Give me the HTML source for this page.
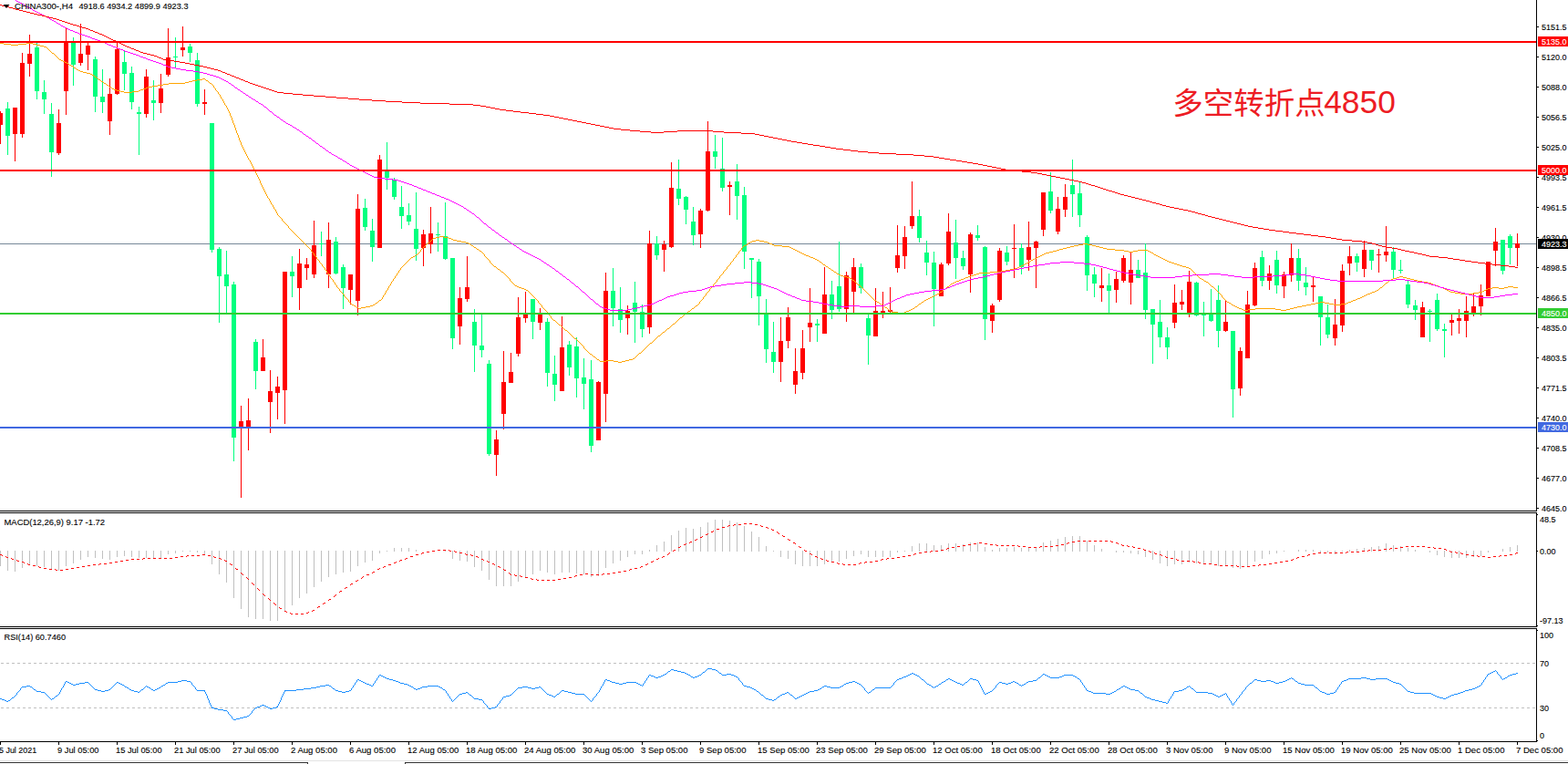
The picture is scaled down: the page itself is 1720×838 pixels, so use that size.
<!DOCTYPE html>
<html><head><meta charset="utf-8"><title>CHINA300 H4</title><style>html,body{margin:0;padding:0;background:#fff;overflow:hidden}svg{display:block}text{font-family:"Liberation Sans",sans-serif;font-size:9.5px;fill:#000;white-space:pre;stroke:#000;stroke-width:.12px}.w{fill:#fff;stroke:#fff}</style></head><body>
<svg width="1720" height="838" viewBox="0 0 1720 838">
<rect width="1720" height="838" fill="#fff"/>
<defs><clipPath id="cm"><rect x="0" y="0" width="1685" height="560"/></clipPath></defs>
<g shape-rendering="crispEdges">
<rect x="0" y="267" width="1685" height="1" fill="#778899"/>
<path clip-path="url(#cm)" fill="#00ff7f" d="M8 112h1v58h-1zM6 119h5v30h-5zM40 47h1v62h-1zM38 52h5v48h-5zM48 88h1v37h-1zM46 101h5v8h-5zM56 113h1v81h-1zM54 125h5v42h-5zM80 41h1v53h-1zM78 47h5v24h-5zM104 62h1v61h-1zM102 65h5v41h-5zM112 76h1v48h-1zM110 106h5v6h-5zM136 55h1v44h-1zM134 68h5v13h-5zM144 73h1v47h-1zM142 80h5v32h-5zM152 117h1v53h-1zM150 123h5v2h-5zM168 88h1v44h-1zM166 110h5v3h-5zM192 41h1v33h-1zM190 62h5v1h-5zM208 48h1v20h-1zM206 51h5v7h-5zM216 58h1v59h-1zM214 66h5v48h-5zM232 135h1v142h-1zM230 135h5v139h-5zM240 271h1v83h-1zM238 273h5v30h-5zM248 275h1v68h-1zM246 301h5v13h-5zM256 309h1v197h-1zM254 312h5v168h-5zM280 372h1v55h-1zM278 375h5v32h-5zM320 281h1v45h-1zM318 298h5v5h-5zM352 254h1v27h-1zM350 267h5v1h-5zM368 260h1v41h-1zM366 265h5v35h-5zM376 290h1v49h-1zM374 293h5v23h-5zM400 218h1v35h-1zM398 228h5v21h-5zM408 240h1v47h-1zM406 253h5v18h-5zM424 156h1v52h-1zM422 188h5v7h-5zM432 195h1v24h-1zM430 197h5v19h-5zM440 204h1v47h-1zM438 227h5v10h-5zM448 223h1v24h-1zM446 236h5v7h-5zM456 211h1v75h-1zM454 251h5v22h-5zM480 244h1v32h-1zM478 257h5v1h-5zM488 222h1v63h-1zM486 259h5v25h-5zM496 283h1v100h-1zM494 283h5v88h-5zM520 339h1v69h-1zM518 353h5v26h-5zM528 345h1v47h-1zM526 379h5v5h-5zM536 395h1v105h-1zM534 399h5v99h-5zM584 328h1v44h-1zM582 328h5v25h-5zM600 349h1v75h-1zM598 353h5v56h-5zM608 390h1v50h-1zM606 410h5v12h-5zM624 374h1v38h-1zM622 378h5v25h-5zM632 370h1v66h-1zM630 380h5v35h-5zM640 393h1v56h-1zM638 414h5v7h-5zM648 395h1v101h-1zM646 416h5v73h-5zM672 294h1v64h-1zM670 319h5v19h-5zM680 315h1v50h-1zM678 339h5v12h-5zM696 309h1v67h-1zM694 332h5v10h-5zM704 334h1v36h-1zM702 342h5v19h-5zM720 259h1v26h-1zM718 267h5v13h-5zM744 175h1v50h-1zM742 207h5v11h-5zM752 215h1v31h-1zM750 216h5v14h-5zM760 227h1v42h-1zM758 243h5v15h-5zM784 148h1v37h-1zM782 166h5v6h-5zM792 151h1v59h-1zM790 185h5v21h-5zM808 180h1v61h-1zM806 199h5v16h-5zM816 205h1v90h-1zM814 214h5v62h-5zM824 283h1v44h-1zM822 283h5v2h-5zM832 284h1v73h-1zM830 287h5v38h-5zM840 328h1v70h-1zM838 345h5v38h-5zM848 353h1v56h-1zM846 386h5v11h-5zM896 350h1v25h-1zM894 355h5v2h-5zM912 308h1v42h-1zM910 323h5v17h-5zM920 265h1v77h-1zM918 314h5v25h-5zM944 289h1v33h-1zM942 293h5v23h-5zM952 345h1v55h-1zM950 349h5v19h-5zM1008 230h1v36h-1zM1006 237h5v24h-5zM1016 264h1v38h-1zM1014 277h5v11h-5zM1024 276h1v82h-1zM1022 288h5v29h-5zM1048 241h1v65h-1zM1046 266h5v17h-5zM1056 275h1v21h-1zM1054 283h5v9h-5zM1072 247h1v17h-1zM1070 258h5v3h-5zM1080 270h1v103h-1zM1078 271h5v79h-5zM1104 270h1v21h-1zM1102 277h5v10h-5zM1120 267h1v34h-1zM1118 272h5v21h-5zM1152 189h1v45h-1zM1150 210h5v21h-5zM1176 175h1v63h-1zM1174 203h5v10h-5zM1184 200h1v49h-1zM1182 212h5v24h-5zM1192 258h1v61h-1zM1190 260h5v42h-5zM1200 293h1v33h-1zM1198 301h5v10h-5zM1216 300h1v43h-1zM1214 313h5v6h-5zM1248 285h1v20h-1zM1246 296h5v9h-5zM1256 267h1v83h-1zM1254 299h5v41h-5zM1264 339h1v60h-1zM1262 339h5v17h-5zM1272 329h1v52h-1zM1270 353h5v17h-5zM1280 359h1v35h-1zM1278 370h5v11h-5zM1312 309h1v38h-1zM1310 310h5v36h-5zM1320 331h1v38h-1zM1318 344h5v2h-5zM1328 317h1v36h-1zM1326 344h5v8h-5zM1336 313h1v68h-1zM1334 329h5v34h-5zM1352 363h1v95h-1zM1350 363h5v64h-5zM1384 275h1v39h-1zM1382 282h5v26h-5zM1400 275h1v47h-1zM1398 285h5v28h-5zM1424 273h1v46h-1zM1422 283h5v25h-5zM1432 293h1v31h-1zM1430 310h5v5h-5zM1448 325h1v54h-1zM1446 325h5v23h-5zM1456 334h1v37h-1zM1454 348h5v19h-5zM1488 278h1v20h-1zM1486 281h5v7h-5zM1504 274h1v22h-1zM1502 274h5v12h-5zM1528 271h1v34h-1zM1526 276h5v20h-5zM1536 285h1v15h-1zM1534 296h5v1h-5zM1544 308h1v30h-1zM1542 312h5v22h-5zM1552 329h1v22h-1zM1550 335h5v5h-5zM1568 339h1v36h-1zM1566 341h5v1h-5zM1576 322h1v41h-1zM1574 329h5v32h-5zM1584 355h1v37h-1zM1582 361h5v2h-5zM1648 263h1v38h-1zM1646 263h5v34h-5zM1656 257h1v33h-1zM1654 259h5v13h-5z"/>
<path clip-path="url(#cm)" fill="#ff0000" d="M0 122h1v36h-1zM-2 124h5v13h-5zM16 118h1v59h-1zM14 118h5v29h-5zM24 58h1v93h-1zM22 69h5v78h-5zM32 38h1v46h-1zM30 59h5v11h-5zM64 120h1v50h-1zM62 135h5v33h-5zM72 31h1v95h-1zM70 46h5v54h-5zM88 26h1v46h-1zM86 59h5v10h-5zM96 47h1v30h-1zM94 50h5v10h-5zM120 86h1v62h-1zM118 103h5v30h-5zM128 45h1v59h-1zM126 54h5v49h-5zM160 76h1v53h-1zM158 84h5v41h-5zM176 81h1v43h-1zM174 97h5v16h-5zM184 31h1v53h-1zM182 63h5v19h-5zM200 29h1v33h-1zM198 52h5v3h-5zM224 98h1v28h-1zM222 112h5v2h-5zM264 445h1v101h-1zM262 462h5v6h-5zM272 437h1v57h-1zM270 461h5v7h-5zM288 372h1v35h-1zM286 392h5v15h-5zM296 406h1v69h-1zM294 429h5v12h-5zM304 413h1v47h-1zM302 424h5v7h-5zM312 298h1v167h-1zM310 298h5v130h-5zM328 273h1v67h-1zM326 289h5v27h-5zM336 283h1v24h-1zM334 290h5v4h-5zM344 242h1v63h-1zM342 269h5v32h-5zM360 244h1v72h-1zM358 263h5v38h-5zM384 301h1v33h-1zM382 301h5v17h-5zM392 213h1v133h-1zM390 229h5v101h-5zM416 170h1v102h-1zM414 175h5v97h-5zM464 252h1v40h-1zM462 257h5v15h-5zM472 227h1v51h-1zM470 256h5v12h-5zM504 315h1v63h-1zM502 327h5v31h-5zM512 281h1v50h-1zM510 315h5v13h-5zM544 472h1v50h-1zM542 482h5v17h-5zM552 385h1v86h-1zM550 419h5v35h-5zM560 387h1v33h-1zM558 408h5v12h-5zM568 326h1v65h-1zM566 348h5v40h-5zM576 320h1v34h-1zM574 345h5v4h-5zM592 338h1v24h-1zM590 345h5v9h-5zM616 347h1v82h-1zM614 381h5v48h-5zM656 418h1v65h-1zM654 419h5v64h-5zM664 299h1v164h-1zM662 319h5v113h-5zM688 335h1v32h-1zM686 341h5v8h-5zM712 253h1v113h-1zM710 267h5v92h-5zM728 264h1v34h-1zM726 268h5v6h-5zM736 178h1v94h-1zM734 206h5v65h-5zM768 229h1v43h-1zM766 231h5v26h-5zM776 133h1v99h-1zM774 166h5v65h-5zM800 199h1v37h-1zM798 203h5v2h-5zM856 348h1v71h-1zM854 374h5v23h-5zM864 337h1v45h-1zM862 348h5v26h-5zM872 382h1v50h-1zM870 407h5v15h-5zM880 362h1v54h-1zM878 382h5v27h-5zM888 316h1v59h-1zM886 354h5v5h-5zM904 293h1v73h-1zM902 323h5v43h-5zM928 298h1v55h-1zM926 302h5v37h-5zM936 283h1v60h-1zM934 293h5v27h-5zM960 316h1v53h-1zM958 341h5v28h-5zM968 320h1v29h-1zM966 341h5v2h-5zM976 315h1v28h-1zM974 340h5v2h-5zM984 247h1v52h-1zM982 280h5v14h-5zM992 248h1v47h-1zM990 260h5v21h-5zM1000 199h1v52h-1zM998 237h5v11h-5zM1032 288h1v37h-1zM1030 290h5v35h-5zM1040 234h1v57h-1zM1038 254h5v35h-5zM1064 255h1v66h-1zM1062 257h5v44h-5zM1088 333h1v32h-1zM1086 335h5v17h-5zM1096 272h1v59h-1zM1094 275h5v54h-5zM1112 246h1v59h-1zM1110 272h5v1h-5zM1128 243h1v54h-1zM1126 271h5v14h-5zM1136 264h1v52h-1zM1134 265h5v7h-5zM1144 211h1v48h-1zM1142 211h5v41h-5zM1160 216h1v41h-1zM1158 229h5v25h-5zM1168 202h1v36h-1zM1166 216h5v14h-5zM1208 294h1v37h-1zM1206 313h5v3h-5zM1224 298h1v34h-1zM1222 306h5v12h-5zM1232 280h1v30h-1zM1230 283h5v25h-5zM1240 276h1v58h-1zM1238 296h5v14h-5zM1288 312h1v48h-1zM1286 332h5v22h-5zM1296 318h1v22h-1zM1294 331h5v3h-5zM1304 297h1v51h-1zM1302 309h5v35h-5zM1344 330h1v34h-1zM1342 353h5v10h-5zM1360 381h1v53h-1zM1358 385h5v41h-5zM1368 319h1v74h-1zM1366 334h5v59h-5zM1376 288h1v48h-1zM1374 294h5v41h-5zM1392 291h1v27h-1zM1390 300h5v8h-5zM1408 298h1v29h-1zM1406 301h5v13h-5zM1416 267h1v42h-1zM1414 283h5v19h-5zM1440 303h1v28h-1zM1438 313h5v2h-5zM1464 328h1v51h-1zM1462 356h5v15h-5zM1472 290h1v74h-1zM1470 297h5v60h-5zM1480 270h1v32h-1zM1478 281h5v8h-5zM1496 264h1v40h-1zM1494 274h5v21h-5zM1512 273h1v26h-1zM1510 279h5v1h-5zM1520 248h1v39h-1zM1518 276h5v4h-5zM1560 331h1v39h-1zM1558 337h5v33h-5zM1592 345h1v23h-1zM1590 351h5v3h-5zM1600 339h1v27h-1zM1598 349h5v3h-5zM1608 325h1v45h-1zM1606 341h5v11h-5zM1616 322h1v25h-1zM1614 336h5v7h-5zM1624 312h1v34h-1zM1622 324h5v12h-5zM1632 287h1v38h-1zM1630 287h5v38h-5zM1640 250h1v42h-1zM1638 265h5v10h-5zM1664 256h1v36h-1zM1662 267h5v5h-5z"/>
<path fill="#ffa500" d="M0 47h4v1h-4zM4 48h8v1h-8zM12 49h8v1h-8zM20 48h9v1h-9zM29 47h7v1h-7zM36 48h4v1h-4zM40 49h4v1h-4zM44 50h4v1h-4zM48 51h3v1h-3zM51 52h1v1h-1zM52 53h1v1h-1zM53 54h1v1h-1zM54 55h1v1h-1zM55 56h1v1h-1zM56 57h1v1h-1zM57 58h2v1h-2zM59 59h1v1h-1zM60 60h1v1h-1zM61 61h1v1h-1zM62 62h1v1h-1zM63 63h1v1h-1zM64 64h1v1h-1zM65 65h2v1h-2zM67 66h2v1h-2zM69 67h2v1h-2zM71 68h2v1h-2zM73 69h2v1h-2zM75 70h1v1h-1zM76 71h2v1h-2zM78 72h2v1h-2zM80 73h1v1h-1zM81 74h2v1h-2zM83 75h1v1h-1zM84 76h2v1h-2zM86 77h2v1h-2zM88 78h3v1h-3zM91 79h4v1h-4zM95 80h4v1h-4zM99 81h2v1h-2zM101 82h2v1h-2zM103 83h1v1h-1zM104 84h2v1h-2zM106 85h1v1h-1zM107 86h1v1h-1zM108 87h2v1h-2zM110 88h1v1h-1zM111 89h2v1h-2zM113 90h1v1h-1zM114 91h2v1h-2zM116 92h1v1h-1zM117 93h2v1h-2zM119 94h1v1h-1zM120 95h2v1h-2zM122 96h1v1h-1zM123 97h2v1h-2zM125 98h3v1h-3zM128 99h4v1h-4zM132 100h4v1h-4zM136 101h9v1h-9zM145 100h7v1h-7zM152 99h2v1h-2zM154 98h3v1h-3zM157 97h3v1h-3zM160 96h2v1h-2zM162 95h5v1h-5zM167 94h6v1h-6zM173 93h6v1h-6zM179 92h6v1h-6zM185 91h18v1h-18zM203 90h4v1h-4zM207 89h4v1h-4zM211 88h5v1h-5zM216 87h6v1h-6zM222 86h3v1h-3zM225 87h1v1h-1zM226 88h2v1h-2zM228 89h1v1h-1zM229 90h1v1h-1zM230 91h2v1h-2zM232 92h1v1h-1zM233 93h1v1h-1zM234 94h1v1h-1zM234 95h1v1h-1zM235 96h1v1h-1zM236 97h1v1h-1zM236 98h1v1h-1zM237 99h1v1h-1zM238 100h1v1h-1zM239 101h1v1h-1zM239 102h1v1h-1zM240 103h1v1h-1zM241 104h1v1h-1zM241 105h1v1h-1zM242 106h1v1h-1zM242 107h1v1h-1zM243 108h1v1h-1zM244 109h1v1h-1zM244 110h1v1h-1zM245 111h1v1h-1zM245 112h1v1h-1zM246 113h1v1h-1zM246 114h1v1h-1zM247 115h1v1h-1zM248 116h1v1h-1zM248 117h1v1h-1zM249 118h1v1h-1zM249 119h1v1h-1zM250 120h1v1h-1zM250 121h1v1h-1zM251 122h1v1h-1zM251 123h1v1h-1zM252 124h1v1h-1zM252 125h1v1h-1zM252 126h1v1h-1zM253 127h1v1h-1zM253 128h1v1h-1zM254 129h1v1h-1zM254 130h1v1h-1zM254 131h1v1h-1zM255 132h1v1h-1zM255 133h1v1h-1zM255 134h1v1h-1zM256 135h1v1h-1zM256 136h1v1h-1zM257 137h1v1h-1zM257 138h1v1h-1zM257 139h1v1h-1zM258 140h1v1h-1zM258 141h1v1h-1zM258 142h1v1h-1zM259 143h1v1h-1zM259 144h1v1h-1zM259 145h1v1h-1zM260 146h1v1h-1zM260 147h1v1h-1zM261 148h1v1h-1zM261 149h1v1h-1zM261 150h1v1h-1zM262 151h1v1h-1zM262 152h1v1h-1zM262 153h1v1h-1zM263 154h1v1h-1zM263 155h1v1h-1zM264 156h1v1h-1zM264 157h1v1h-1zM264 158h1v1h-1zM265 159h1v1h-1zM265 160h1v1h-1zM266 161h1v1h-1zM266 162h1v1h-1zM267 163h1v1h-1zM267 164h1v1h-1zM268 165h1v1h-1zM268 166h1v1h-1zM269 167h1v1h-1zM269 168h1v1h-1zM270 169h1v1h-1zM270 170h1v1h-1zM271 171h1v1h-1zM271 172h1v1h-1zM272 173h1v1h-1zM272 174h1v1h-1zM273 175h1v1h-1zM274 176h1v1h-1zM274 177h1v1h-1zM275 178h1v1h-1zM275 179h1v1h-1zM276 180h1v1h-1zM276 181h1v1h-1zM277 182h1v1h-1zM277 183h1v1h-1zM278 184h1v1h-1zM278 185h1v1h-1zM279 186h1v1h-1zM279 187h1v1h-1zM280 188h1v1h-1zM280 189h1v1h-1zM281 190h1v1h-1zM281 191h1v1h-1zM282 192h1v1h-1zM282 193h1v1h-1zM283 194h1v1h-1zM283 195h1v1h-1zM284 196h1v1h-1zM284 197h1v1h-1zM285 198h1v1h-1zM285 199h1v1h-1zM285 200h1v1h-1zM286 201h1v1h-1zM286 202h1v1h-1zM287 203h1v1h-1zM287 204h1v1h-1zM288 205h1v1h-1zM288 206h1v1h-1zM289 207h1v1h-1zM289 208h1v1h-1zM290 209h1v1h-1zM290 210h1v1h-1zM291 211h1v1h-1zM291 212h1v1h-1zM292 213h1v1h-1zM292 214h1v1h-1zM293 215h1v1h-1zM293 216h1v1h-1zM294 217h1v1h-1zM295 218h1v1h-1zM295 219h1v1h-1zM296 220h1v1h-1zM296 221h1v1h-1zM297 222h1v1h-1zM297 223h1v1h-1zM298 224h1v1h-1zM299 225h1v1h-1zM299 226h1v1h-1zM300 227h1v1h-1zM300 228h1v1h-1zM301 229h1v1h-1zM302 230h1v1h-1zM302 231h1v1h-1zM303 232h1v1h-1zM303 233h1v1h-1zM304 234h1v1h-1zM304 235h1v1h-1zM305 236h1v1h-1zM306 237h1v1h-1zM307 238h1v1h-1zM308 239h1v1h-1zM309 240h1v1h-1zM309 241h1v1h-1zM310 242h1v1h-1zM311 243h1v1h-1zM312 244h1v1h-1zM313 245h1v1h-1zM314 246h1v1h-1zM315 247h1v1h-1zM316 248h1v1h-1zM316 249h1v1h-1zM317 250h1v1h-1zM318 251h1v1h-1zM319 252h1v1h-1zM320 253h1v1h-1zM321 254h1v1h-1zM322 255h1v1h-1zM323 256h1v1h-1zM324 257h1v1h-1zM325 258h1v1h-1zM326 259h1v1h-1zM327 260h1v1h-1zM328 261h1v1h-1zM329 262h1v1h-1zM330 263h1v1h-1zM331 264h1v1h-1zM332 265h1v1h-1zM333 266h1v1h-1zM334 267h1v1h-1zM335 268h1v1h-1zM336 269h1v1h-1zM337 270h1v1h-1zM338 271h1v1h-1zM339 272h1v1h-1zM340 273h1v1h-1zM341 274h1v1h-1zM341 275h1v1h-1zM342 276h1v1h-1zM343 277h1v1h-1zM344 278h1v1h-1zM344 279h1v1h-1zM345 280h1v1h-1zM346 281h1v1h-1zM347 282h1v1h-1zM347 283h1v1h-1zM348 284h1v1h-1zM349 285h1v1h-1zM350 286h1v1h-1zM350 287h1v1h-1zM351 288h1v1h-1zM352 289h1v1h-1zM353 290h1v1h-1zM353 291h1v1h-1zM354 292h1v1h-1zM355 293h1v1h-1zM356 294h1v1h-1zM356 295h1v1h-1zM357 296h1v1h-1zM358 297h1v1h-1zM358 298h1v1h-1zM359 299h1v1h-1zM360 300h1v1h-1zM360 301h1v1h-1zM361 302h1v1h-1zM362 303h1v1h-1zM362 304h1v1h-1zM363 305h1v1h-1zM364 306h1v1h-1zM365 307h1v1h-1zM365 308h1v1h-1zM366 309h1v1h-1zM367 310h1v1h-1zM367 311h1v1h-1zM368 312h1v1h-1zM369 313h1v1h-1zM369 314h1v1h-1zM370 315h1v1h-1zM371 316h1v1h-1zM372 317h1v1h-1zM372 318h1v1h-1zM373 319h1v1h-1zM374 320h1v1h-1zM375 321h1v1h-1zM376 322h1v1h-1zM377 323h1v1h-1zM377 324h1v1h-1zM378 325h1v1h-1zM379 326h1v1h-1zM380 327h1v1h-1zM381 328h1v1h-1zM382 329h1v1h-1zM382 330h1v1h-1zM383 331h1v1h-1zM384 332h1v1h-1zM385 333h1v1h-1zM386 334h2v1h-2zM388 335h2v1h-2zM390 336h1v1h-1zM391 337h2v1h-2zM393 338h3v1h-3zM396 337h5v1h-5zM401 336h5v1h-5zM406 335h3v1h-3zM409 334h2v1h-2zM411 333h1v1h-1zM412 332h2v1h-2zM414 331h1v1h-1zM415 330h1v1h-1zM416 329h2v1h-2zM418 328h1v1h-1zM419 326h1v1h-1zM419 327h1v1h-1zM420 324h1v1h-1zM420 325h1v1h-1zM421 323h1v1h-1zM422 321h1v1h-1zM422 322h1v1h-1zM423 319h1v1h-1zM423 320h1v1h-1zM424 318h1v1h-1zM425 316h1v1h-1zM425 317h1v1h-1zM426 314h1v1h-1zM426 315h1v1h-1zM427 313h1v1h-1zM428 311h1v1h-1zM428 312h1v1h-1zM429 309h1v1h-1zM429 310h1v1h-1zM430 308h1v1h-1zM431 306h1v1h-1zM431 307h1v1h-1zM432 305h1v1h-1zM433 303h1v1h-1zM433 304h1v1h-1zM434 302h1v1h-1zM435 300h1v1h-1zM435 301h1v1h-1zM436 299h1v1h-1zM437 297h1v1h-1zM437 298h1v1h-1zM438 296h1v1h-1zM439 294h1v1h-1zM439 295h1v1h-1zM440 293h1v1h-1zM441 292h1v1h-1zM442 291h1v1h-1zM443 290h1v1h-1zM444 289h1v1h-1zM445 288h1v1h-1zM446 287h1v1h-1zM447 286h1v1h-1zM448 285h1v1h-1zM449 284h1v1h-1zM450 283h1v1h-1zM451 282h2v1h-2zM453 281h2v1h-2zM455 280h1v1h-1zM456 279h2v1h-2zM458 278h1v1h-1zM459 277h1v1h-1zM460 276h1v1h-1zM461 274h1v1h-1zM461 275h1v1h-1zM462 273h1v1h-1zM463 272h1v1h-1zM464 271h1v1h-1zM465 270h1v1h-1zM466 269h1v1h-1zM467 268h1v1h-1zM468 267h1v1h-1zM469 266h2v1h-2zM471 265h1v1h-1zM472 264h1v1h-1zM473 263h1v1h-1zM474 262h1v1h-1zM475 261h3v1h-3zM478 260h4v1h-4zM482 259h5v1h-5zM487 260h5v1h-5zM492 261h3v1h-3zM495 262h2v1h-2zM497 263h4v1h-4zM501 264h5v1h-5zM506 265h5v1h-5zM511 266h3v1h-3zM514 267h2v1h-2zM516 268h1v1h-1zM517 269h2v1h-2zM519 270h1v1h-1zM520 271h2v1h-2zM522 272h1v1h-1zM523 273h2v1h-2zM525 274h1v1h-1zM526 275h2v1h-2zM528 276h1v1h-1zM529 277h1v1h-1zM530 278h1v1h-1zM531 279h1v1h-1zM531 280h1v1h-1zM532 281h1v1h-1zM533 282h1v1h-1zM534 283h1v1h-1zM535 284h1v1h-1zM536 285h1v1h-1zM537 286h1v1h-1zM537 287h1v1h-1zM538 288h1v1h-1zM539 289h1v1h-1zM540 290h1v1h-1zM541 291h1v1h-1zM542 292h2v1h-2zM544 293h1v1h-1zM545 294h1v1h-1zM546 295h2v1h-2zM548 296h1v1h-1zM549 297h1v1h-1zM550 298h2v1h-2zM552 299h1v1h-1zM553 300h1v1h-1zM554 301h1v1h-1zM555 302h1v1h-1zM556 303h1v1h-1zM557 304h1v1h-1zM558 305h1v1h-1zM559 306h1v1h-1zM559 307h1v1h-1zM560 308h1v1h-1zM561 309h1v1h-1zM562 310h1v1h-1zM563 311h1v1h-1zM564 312h1v1h-1zM565 313h2v1h-2zM567 314h2v1h-2zM569 315h3v1h-3zM572 316h3v1h-3zM575 317h2v1h-2zM577 318h2v1h-2zM579 319h1v1h-1zM580 320h1v1h-1zM581 321h1v1h-1zM582 322h1v1h-1zM583 323h1v1h-1zM584 324h1v1h-1zM585 325h1v1h-1zM586 326h1v1h-1zM587 327h1v1h-1zM588 328h1v1h-1zM589 329h1v1h-1zM590 330h1v1h-1zM590 331h1v1h-1zM591 332h1v1h-1zM592 333h1v1h-1zM593 334h1v1h-1zM594 335h1v1h-1zM594 336h1v1h-1zM595 337h1v1h-1zM596 338h1v1h-1zM597 339h1v1h-1zM598 340h1v1h-1zM599 341h1v1h-1zM600 342h1v1h-1zM601 343h1v1h-1zM601 344h1v1h-1zM602 345h1v1h-1zM603 346h1v1h-1zM604 347h1v1h-1zM604 348h1v1h-1zM605 349h1v1h-1zM606 350h1v1h-1zM607 351h2v1h-2zM609 352h1v1h-1zM610 353h1v1h-1zM611 354h1v1h-1zM612 355h1v1h-1zM613 356h2v1h-2zM615 357h1v1h-1zM616 358h1v1h-1zM617 359h1v1h-1zM618 360h1v1h-1zM619 361h1v1h-1zM620 362h2v1h-2zM622 363h1v1h-1zM623 364h1v1h-1zM624 365h1v1h-1zM625 366h1v1h-1zM626 367h1v1h-1zM627 368h1v1h-1zM628 369h1v1h-1zM629 370h1v1h-1zM630 371h2v1h-2zM632 372h1v1h-1zM633 373h1v1h-1zM634 374h1v1h-1zM635 375h1v1h-1zM636 376h1v1h-1zM637 377h1v1h-1zM638 378h1v1h-1zM639 379h1v1h-1zM640 380h1v1h-1zM640 381h1v1h-1zM641 382h1v1h-1zM642 383h1v1h-1zM643 384h1v1h-1zM644 385h1v1h-1zM645 386h1v1h-1zM646 387h1v1h-1zM647 388h2v1h-2zM649 389h1v1h-1zM650 390h1v1h-1zM651 391h2v1h-2zM653 392h1v1h-1zM654 393h1v1h-1zM655 394h2v1h-2zM657 395h1v1h-1zM658 396h7v1h-7zM665 395h8v1h-8zM673 396h5v1h-5zM678 397h4v1h-4zM682 396h4v1h-4zM686 395h4v1h-4zM690 394h4v1h-4zM694 393h2v1h-2zM696 392h1v1h-1zM697 391h1v1h-1zM698 390h1v1h-1zM699 389h1v1h-1zM700 388h1v1h-1zM701 387h2v1h-2zM703 386h1v1h-1zM704 385h1v1h-1zM705 384h1v1h-1zM706 383h1v1h-1zM707 382h1v1h-1zM708 381h1v1h-1zM709 380h1v1h-1zM710 379h1v1h-1zM711 378h1v1h-1zM712 377h1v1h-1zM713 376h2v1h-2zM715 375h1v1h-1zM716 374h1v1h-1zM717 373h1v1h-1zM718 372h1v1h-1zM719 371h1v1h-1zM720 370h1v1h-1zM721 369h1v1h-1zM722 368h2v1h-2zM724 367h1v1h-1zM725 366h1v1h-1zM726 365h1v1h-1zM727 364h2v1h-2zM729 363h1v1h-1zM730 362h1v1h-1zM731 361h1v1h-1zM732 360h2v1h-2zM734 359h1v1h-1zM735 358h1v1h-1zM736 357h1v1h-1zM737 356h1v1h-1zM738 355h2v1h-2zM740 354h1v1h-1zM741 353h1v1h-1zM742 352h1v1h-1zM743 351h1v1h-1zM744 350h1v1h-1zM745 349h1v1h-1zM746 348h2v1h-2zM748 347h1v1h-1zM749 346h1v1h-1zM750 345h1v1h-1zM751 344h2v1h-2zM753 343h1v1h-1zM754 342h1v1h-1zM755 341h2v1h-2zM757 340h1v1h-1zM758 339h1v1h-1zM759 338h2v1h-2zM761 337h1v1h-1zM762 336h1v1h-1zM763 335h2v1h-2zM765 334h1v1h-1zM766 333h1v1h-1zM767 331h1v1h-1zM767 332h1v1h-1zM768 330h1v1h-1zM769 329h1v1h-1zM770 328h1v1h-1zM771 326h1v1h-1zM771 327h1v1h-1zM772 325h1v1h-1zM773 324h1v1h-1zM774 322h1v1h-1zM774 323h1v1h-1zM775 321h1v1h-1zM776 320h1v1h-1zM777 319h1v1h-1zM778 317h1v1h-1zM778 318h1v1h-1zM779 316h1v1h-1zM780 315h1v1h-1zM781 314h1v1h-1zM782 312h1v1h-1zM782 313h1v1h-1zM783 311h1v1h-1zM784 310h1v1h-1zM785 309h1v1h-1zM786 307h1v1h-1zM786 308h1v1h-1zM787 306h1v1h-1zM788 305h1v1h-1zM789 303h1v1h-1zM789 304h1v1h-1zM790 302h1v1h-1zM791 301h1v1h-1zM792 300h1v1h-1zM793 298h1v1h-1zM793 299h1v1h-1zM794 297h1v1h-1zM795 296h1v1h-1zM796 295h1v1h-1zM797 293h1v1h-1zM797 294h1v1h-1zM798 292h1v1h-1zM799 291h1v1h-1zM800 290h1v1h-1zM801 288h1v1h-1zM801 289h1v1h-1zM802 287h1v1h-1zM803 286h1v1h-1zM804 284h1v1h-1zM804 285h1v1h-1zM805 283h1v1h-1zM806 282h1v1h-1zM807 280h1v1h-1zM807 281h1v1h-1zM808 279h1v1h-1zM809 278h1v1h-1zM810 276h1v1h-1zM810 277h1v1h-1zM811 275h1v1h-1zM812 274h1v1h-1zM813 272h1v1h-1zM813 273h1v1h-1zM814 271h1v1h-1zM815 270h1v1h-1zM816 269h2v1h-2zM818 268h2v1h-2zM820 267h1v1h-1zM821 266h2v1h-2zM823 265h2v1h-2zM825 264h4v1h-4zM829 263h4v1h-4zM833 264h5v1h-5zM838 265h4v1h-4zM842 266h2v1h-2zM844 267h3v1h-3zM847 268h2v1h-2zM849 269h9v1h-9zM858 270h8v1h-8zM866 271h2v1h-2zM868 272h2v1h-2zM870 273h2v1h-2zM872 274h2v1h-2zM874 275h2v1h-2zM876 276h2v1h-2zM878 277h2v1h-2zM880 278h2v1h-2zM882 279h2v1h-2zM884 280h3v1h-3zM887 281h2v1h-2zM889 282h3v1h-3zM892 283h2v1h-2zM894 284h2v1h-2zM896 285h2v1h-2zM898 286h1v1h-1zM899 287h2v1h-2zM901 288h1v1h-1zM902 289h1v1h-1zM903 290h2v1h-2zM905 291h1v1h-1zM906 292h2v1h-2zM908 293h1v1h-1zM909 294h2v1h-2zM911 295h1v1h-1zM912 296h2v1h-2zM914 297h1v1h-1zM915 298h2v1h-2zM917 299h1v1h-1zM918 300h2v1h-2zM920 301h2v1h-2zM922 302h3v1h-3zM925 303h4v1h-4zM929 304h3v1h-3zM932 305h2v1h-2zM934 306h1v1h-1zM935 307h2v1h-2zM937 308h1v1h-1zM938 309h1v1h-1zM939 310h1v1h-1zM940 311h1v1h-1zM941 312h2v1h-2zM943 313h1v1h-1zM944 314h1v1h-1zM945 315h1v1h-1zM946 316h1v1h-1zM947 317h1v1h-1zM948 318h1v1h-1zM949 319h1v1h-1zM950 320h1v1h-1zM951 321h1v1h-1zM952 322h1v1h-1zM953 323h1v1h-1zM954 324h1v1h-1zM955 325h1v1h-1zM956 326h1v1h-1zM957 327h1v1h-1zM958 328h1v1h-1zM959 329h2v1h-2zM961 330h1v1h-1zM962 331h2v1h-2zM964 332h1v1h-1zM965 333h2v1h-2zM967 334h1v1h-1zM968 335h2v1h-2zM970 336h1v1h-1zM971 337h2v1h-2zM973 338h1v1h-1zM974 339h1v1h-1zM975 340h2v1h-2zM977 341h1v1h-1zM978 342h7v1h-7zM985 343h7v1h-7zM992 342h2v1h-2zM994 341h3v1h-3zM997 340h2v1h-2zM999 339h2v1h-2zM1001 338h2v1h-2zM1003 337h1v1h-1zM1004 336h2v1h-2zM1006 335h1v1h-1zM1007 334h1v1h-1zM1008 333h2v1h-2zM1010 332h1v1h-1zM1011 331h2v1h-2zM1013 330h1v1h-1zM1014 329h2v1h-2zM1016 328h2v1h-2zM1018 327h2v1h-2zM1020 326h2v1h-2zM1022 325h2v1h-2zM1024 324h2v1h-2zM1026 323h2v1h-2zM1028 322h2v1h-2zM1030 321h1v1h-1zM1031 320h2v1h-2zM1033 319h1v1h-1zM1034 318h1v1h-1zM1035 317h2v1h-2zM1037 316h1v1h-1zM1038 315h1v1h-1zM1039 314h2v1h-2zM1041 313h1v1h-1zM1042 312h1v1h-1zM1043 311h2v1h-2zM1045 310h2v1h-2zM1047 309h2v1h-2zM1049 308h3v1h-3zM1052 307h2v1h-2zM1054 306h3v1h-3zM1057 305h2v1h-2zM1059 304h3v1h-3zM1062 303h3v1h-3zM1065 302h3v1h-3zM1068 301h3v1h-3zM1071 300h3v1h-3zM1074 299h12v1h-12zM1086 298h12v1h-12zM1098 297h5v1h-5zM1103 296h5v1h-5zM1108 295h5v1h-5zM1113 294h3v1h-3zM1116 293h2v1h-2zM1118 292h2v1h-2zM1120 291h2v1h-2zM1122 290h2v1h-2zM1124 289h2v1h-2zM1126 288h2v1h-2zM1128 287h2v1h-2zM1130 286h1v1h-1zM1131 285h2v1h-2zM1133 284h2v1h-2zM1135 283h2v1h-2zM1137 282h2v1h-2zM1139 281h2v1h-2zM1141 280h2v1h-2zM1143 279h2v1h-2zM1145 278h2v1h-2zM1147 277h4v1h-4zM1151 276h4v1h-4zM1155 275h4v1h-4zM1159 274h3v1h-3zM1162 273h4v1h-4zM1166 272h4v1h-4zM1170 271h4v1h-4zM1174 270h4v1h-4zM1178 269h5v1h-5zM1183 268h5v1h-5zM1188 267h5v1h-5zM1193 268h5v1h-5zM1198 269h4v1h-4zM1202 270h4v1h-4zM1206 271h4v1h-4zM1210 272h4v1h-4zM1214 273h9v1h-9zM1223 274h10v1h-10zM1233 275h5v1h-5zM1238 276h5v1h-5zM1243 275h5v1h-5zM1248 274h11v1h-11zM1259 275h2v1h-2zM1261 276h2v1h-2zM1263 277h2v1h-2zM1265 278h1v1h-1zM1266 279h2v1h-2zM1268 280h2v1h-2zM1270 281h2v1h-2zM1272 282h2v1h-2zM1274 283h2v1h-2zM1276 284h2v1h-2zM1278 285h2v1h-2zM1280 286h2v1h-2zM1282 287h3v1h-3zM1285 288h3v1h-3zM1288 289h3v1h-3zM1291 290h3v1h-3zM1294 291h3v1h-3zM1297 292h4v1h-4zM1301 293h3v1h-3zM1304 294h2v1h-2zM1306 295h1v1h-1zM1307 296h1v1h-1zM1308 297h1v1h-1zM1309 298h1v1h-1zM1310 299h1v1h-1zM1311 300h1v1h-1zM1312 301h1v1h-1zM1313 302h1v1h-1zM1314 303h1v1h-1zM1315 304h1v1h-1zM1316 305h2v1h-2zM1318 306h2v1h-2zM1320 307h1v1h-1zM1321 308h2v1h-2zM1323 309h2v1h-2zM1325 310h1v1h-1zM1326 311h1v1h-1zM1327 312h1v1h-1zM1328 313h1v1h-1zM1329 314h2v1h-2zM1331 315h1v1h-1zM1332 316h1v1h-1zM1333 317h1v1h-1zM1334 318h1v1h-1zM1335 319h1v1h-1zM1336 320h1v1h-1zM1337 321h1v1h-1zM1338 322h1v1h-1zM1339 323h1v1h-1zM1340 324h1v1h-1zM1340 325h1v1h-1zM1341 326h1v1h-1zM1342 327h1v1h-1zM1343 328h1v1h-1zM1344 329h1v1h-1zM1345 330h1v1h-1zM1346 331h2v1h-2zM1348 332h2v1h-2zM1350 333h1v1h-1zM1351 334h2v1h-2zM1353 335h2v1h-2zM1355 336h2v1h-2zM1357 337h2v1h-2zM1359 338h3v1h-3zM1362 339h2v1h-2zM1364 340h5v1h-5zM1369 339h8v1h-8zM1377 338h22v1h-22zM1399 339h6v1h-6zM1405 340h6v1h-6zM1411 339h4v1h-4zM1415 338h4v1h-4zM1419 337h4v1h-4zM1423 336h5v1h-5zM1428 335h5v1h-5zM1433 334h5v1h-5zM1438 333h5v1h-5zM1443 332h5v1h-5zM1448 331h5v1h-5zM1453 332h5v1h-5zM1458 333h5v1h-5zM1463 334h8v1h-8zM1471 333h6v1h-6zM1477 332h2v1h-2zM1479 331h3v1h-3zM1482 330h2v1h-2zM1484 329h3v1h-3zM1487 328h2v1h-2zM1489 327h3v1h-3zM1492 326h2v1h-2zM1494 325h2v1h-2zM1496 324h2v1h-2zM1498 323h2v1h-2zM1500 322h3v1h-3zM1503 321h2v1h-2zM1505 320h3v1h-3zM1508 319h2v1h-2zM1510 318h2v1h-2zM1512 317h1v1h-1zM1513 316h1v1h-1zM1514 315h2v1h-2zM1516 314h1v1h-1zM1517 313h1v1h-1zM1518 312h1v1h-1zM1519 311h1v1h-1zM1520 310h2v1h-2zM1522 309h1v1h-1zM1523 308h1v1h-1zM1524 307h2v1h-2zM1526 306h2v1h-2zM1528 305h4v1h-4zM1532 304h3v1h-3zM1535 303h4v1h-4zM1539 304h4v1h-4zM1543 305h4v1h-4zM1547 306h4v1h-4zM1551 307h4v1h-4zM1555 308h5v1h-5zM1560 309h6v1h-6zM1566 310h4v1h-4zM1570 311h2v1h-2zM1572 312h3v1h-3zM1575 313h3v1h-3zM1578 314h2v1h-2zM1580 315h3v1h-3zM1583 316h2v1h-2zM1585 317h2v1h-2zM1587 318h2v1h-2zM1589 319h2v1h-2zM1591 320h5v1h-5zM1596 321h6v1h-6zM1602 322h14v1h-14zM1616 321h6v1h-6zM1622 320h4v1h-4zM1626 319h2v1h-2zM1628 318h2v1h-2zM1630 317h2v1h-2zM1632 316h5v1h-5zM1637 315h7v1h-7zM1644 316h6v1h-6zM1650 315h4v1h-4zM1654 314h6v1h-6zM1660 315h5v1h-5z"/>
<path fill="#ff00ff" d="M17 0h1v1h-1zM18 1h2v1h-2zM20 2h2v1h-2zM22 3h2v1h-2zM24 4h2v1h-2zM26 5h1v1h-1zM27 6h2v1h-2zM29 7h2v1h-2zM31 8h2v1h-2zM33 9h2v1h-2zM35 10h1v1h-1zM36 11h2v1h-2zM38 12h2v1h-2zM40 13h2v1h-2zM42 14h2v1h-2zM44 15h2v1h-2zM46 16h2v1h-2zM48 17h2v1h-2zM50 18h2v1h-2zM52 19h2v1h-2zM54 20h1v1h-1zM55 21h2v1h-2zM57 22h2v1h-2zM59 23h2v1h-2zM61 24h1v1h-1zM62 25h2v1h-2zM64 26h2v1h-2zM66 27h1v1h-1zM67 28h2v1h-2zM69 29h2v1h-2zM71 30h2v1h-2zM73 31h2v1h-2zM75 32h2v1h-2zM77 33h3v1h-3zM80 34h2v1h-2zM82 35h3v1h-3zM85 36h2v1h-2zM87 37h3v1h-3zM90 38h3v1h-3zM93 39h3v1h-3zM96 40h3v1h-3zM99 41h2v1h-2zM101 42h3v1h-3zM104 43h3v1h-3zM107 44h3v1h-3zM110 45h2v1h-2zM112 46h3v1h-3zM115 47h2v1h-2zM117 48h2v1h-2zM119 49h3v1h-3zM122 50h2v1h-2zM124 51h3v1h-3zM127 52h2v1h-2zM129 53h3v1h-3zM132 54h3v1h-3zM135 55h2v1h-2zM137 56h3v1h-3zM140 57h3v1h-3zM143 58h3v1h-3zM146 59h3v1h-3zM149 60h3v1h-3zM152 61h2v1h-2zM154 62h3v1h-3zM157 63h3v1h-3zM160 64h2v1h-2zM162 65h3v1h-3zM165 66h3v1h-3zM168 67h3v1h-3zM171 68h3v1h-3zM174 69h3v1h-3zM177 70h2v1h-2zM179 71h3v1h-3zM182 72h2v1h-2zM184 73h4v1h-4zM188 74h5v1h-5zM193 75h5v1h-5zM198 76h6v1h-6zM204 77h8v1h-8zM212 78h6v1h-6zM218 79h5v1h-5zM223 80h4v1h-4zM227 81h3v1h-3zM230 82h4v1h-4zM234 83h3v1h-3zM237 84h3v1h-3zM240 85h2v1h-2zM242 86h2v1h-2zM244 87h2v1h-2zM246 88h2v1h-2zM248 89h2v1h-2zM250 90h1v1h-1zM251 91h2v1h-2zM253 92h1v1h-1zM254 93h2v1h-2zM256 94h1v1h-1zM257 95h1v1h-1zM258 96h2v1h-2zM260 97h1v1h-1zM261 98h2v1h-2zM263 99h1v1h-1zM264 100h2v1h-2zM266 101h1v1h-1zM267 102h2v1h-2zM269 103h1v1h-1zM270 104h2v1h-2zM272 105h1v1h-1zM273 106h2v1h-2zM275 107h1v1h-1zM276 108h2v1h-2zM278 109h2v1h-2zM280 110h1v1h-1zM281 111h2v1h-2zM283 112h1v1h-1zM284 113h2v1h-2zM286 114h2v1h-2zM288 115h1v1h-1zM289 116h1v1h-1zM290 117h2v1h-2zM292 118h1v1h-1zM293 119h1v1h-1zM294 120h1v1h-1zM295 121h1v1h-1zM296 122h2v1h-2zM298 123h1v1h-1zM299 124h1v1h-1zM300 125h1v1h-1zM301 126h2v1h-2zM303 127h1v1h-1zM304 128h2v1h-2zM306 129h1v1h-1zM307 130h1v1h-1zM308 131h2v1h-2zM310 132h1v1h-1zM311 133h2v1h-2zM313 134h1v1h-1zM314 135h2v1h-2zM316 136h2v1h-2zM318 137h2v1h-2zM320 138h1v1h-1zM321 139h2v1h-2zM323 140h2v1h-2zM325 141h1v1h-1zM326 142h2v1h-2zM328 143h1v1h-1zM329 144h2v1h-2zM331 145h1v1h-1zM332 146h1v1h-1zM333 147h2v1h-2zM335 148h1v1h-1zM336 149h2v1h-2zM338 150h1v1h-1zM339 151h2v1h-2zM341 152h1v1h-1zM342 153h1v1h-1zM343 154h2v1h-2zM345 155h1v1h-1zM346 156h1v1h-1zM347 157h2v1h-2zM349 158h1v1h-1zM350 159h1v1h-1zM351 160h2v1h-2zM353 161h1v1h-1zM354 162h2v1h-2zM356 163h1v1h-1zM357 164h1v1h-1zM358 165h2v1h-2zM360 166h1v1h-1zM361 167h2v1h-2zM363 168h1v1h-1zM364 169h2v1h-2zM366 170h2v1h-2zM368 171h2v1h-2zM370 172h1v1h-1zM371 173h2v1h-2zM373 174h2v1h-2zM375 175h1v1h-1zM376 176h2v1h-2zM378 177h2v1h-2zM380 178h1v1h-1zM381 179h2v1h-2zM383 180h1v1h-1zM384 181h2v1h-2zM386 182h2v1h-2zM388 183h2v1h-2zM390 184h2v1h-2zM392 185h2v1h-2zM394 186h2v1h-2zM396 187h2v1h-2zM398 188h2v1h-2zM400 189h2v1h-2zM402 190h2v1h-2zM404 191h2v1h-2zM406 192h2v1h-2zM408 193h2v1h-2zM410 194h4v1h-4zM414 195h8v1h-8zM422 196h9v1h-9zM431 197h6v1h-6zM437 198h3v1h-3zM440 199h3v1h-3zM443 200h3v1h-3zM446 201h3v1h-3zM449 202h3v1h-3zM452 203h2v1h-2zM454 204h3v1h-3zM457 205h2v1h-2zM459 206h3v1h-3zM462 207h2v1h-2zM464 208h3v1h-3zM467 209h2v1h-2zM469 210h3v1h-3zM472 211h2v1h-2zM474 212h3v1h-3zM477 213h2v1h-2zM479 214h3v1h-3zM482 215h2v1h-2zM484 216h3v1h-3zM487 217h2v1h-2zM489 218h3v1h-3zM492 219h2v1h-2zM494 220h2v1h-2zM496 221h2v1h-2zM498 222h2v1h-2zM500 223h2v1h-2zM502 224h2v1h-2zM504 225h2v1h-2zM506 226h2v1h-2zM508 227h1v1h-1zM509 228h2v1h-2zM511 229h1v1h-1zM512 230h2v1h-2zM514 231h1v1h-1zM515 232h2v1h-2zM517 233h1v1h-1zM518 234h2v1h-2zM520 235h1v1h-1zM521 236h1v1h-1zM522 237h1v1h-1zM523 238h2v1h-2zM525 239h1v1h-1zM526 240h1v1h-1zM527 241h1v1h-1zM528 242h1v1h-1zM529 243h1v1h-1zM530 244h1v1h-1zM531 245h2v1h-2zM533 246h1v1h-1zM534 247h1v1h-1zM535 248h1v1h-1zM536 249h2v1h-2zM538 250h1v1h-1zM539 251h1v1h-1zM540 252h2v1h-2zM542 253h1v1h-1zM543 254h1v1h-1zM544 255h2v1h-2zM546 256h1v1h-1zM547 257h1v1h-1zM548 258h2v1h-2zM550 259h1v1h-1zM551 260h2v1h-2zM553 261h1v1h-1zM554 262h2v1h-2zM556 263h1v1h-1zM557 264h1v1h-1zM558 265h2v1h-2zM560 266h1v1h-1zM561 267h2v1h-2zM563 268h1v1h-1zM564 269h2v1h-2zM566 270h1v1h-1zM567 271h2v1h-2zM569 272h1v1h-1zM570 273h2v1h-2zM572 274h1v1h-1zM573 275h2v1h-2zM575 276h2v1h-2zM577 277h2v1h-2zM579 278h2v1h-2zM581 279h2v1h-2zM583 280h2v1h-2zM585 281h2v1h-2zM587 282h2v1h-2zM589 283h2v1h-2zM591 284h2v1h-2zM593 285h1v1h-1zM594 286h2v1h-2zM596 287h1v1h-1zM597 288h2v1h-2zM599 289h1v1h-1zM600 290h2v1h-2zM602 291h1v1h-1zM603 292h2v1h-2zM605 293h1v1h-1zM606 294h2v1h-2zM608 295h1v1h-1zM609 296h1v1h-1zM610 297h2v1h-2zM612 298h1v1h-1zM613 299h1v1h-1zM614 300h2v1h-2zM616 301h1v1h-1zM617 302h1v1h-1zM618 303h2v1h-2zM620 304h1v1h-1zM621 305h1v1h-1zM622 306h2v1h-2zM624 307h1v1h-1zM625 308h1v1h-1zM626 309h1v1h-1zM627 310h2v1h-2zM629 311h1v1h-1zM630 312h1v1h-1zM631 313h1v1h-1zM632 314h2v1h-2zM634 315h1v1h-1zM635 316h1v1h-1zM636 317h1v1h-1zM637 318h1v1h-1zM638 319h1v1h-1zM639 320h2v1h-2zM641 321h1v1h-1zM642 322h1v1h-1zM643 323h1v1h-1zM644 324h1v1h-1zM645 325h1v1h-1zM646 326h1v1h-1zM647 327h1v1h-1zM648 328h2v1h-2zM650 329h1v1h-1zM651 330h1v1h-1zM652 331h1v1h-1zM653 332h1v1h-1zM654 333h2v1h-2zM656 334h1v1h-1zM657 335h1v1h-1zM658 336h2v1h-2zM660 337h3v1h-3zM663 338h3v1h-3zM666 339h3v1h-3zM669 340h19v1h-19zM688 339h5v1h-5zM693 338h5v1h-5zM698 337h4v1h-4zM702 336h4v1h-4zM706 335h4v1h-4zM710 334h4v1h-4zM714 333h3v1h-3zM717 332h2v1h-2zM719 331h2v1h-2zM721 330h2v1h-2zM723 329h3v1h-3zM726 328h2v1h-2zM728 327h2v1h-2zM730 326h2v1h-2zM732 325h3v1h-3zM735 324h4v1h-4zM739 323h3v1h-3zM742 322h3v1h-3zM745 321h4v1h-4zM749 320h6v1h-6zM755 319h9v1h-9zM764 318h6v1h-6zM770 317h3v1h-3zM773 316h3v1h-3zM776 315h3v1h-3zM779 314h5v1h-5zM784 313h7v1h-7zM791 312h6v1h-6zM797 311h9v1h-9zM806 310h10v1h-10zM816 309h8v1h-8zM824 310h8v1h-8zM832 311h5v1h-5zM837 312h3v1h-3zM840 313h3v1h-3zM843 314h3v1h-3zM846 315h3v1h-3zM849 316h3v1h-3zM852 317h2v1h-2zM854 318h2v1h-2zM856 319h2v1h-2zM858 320h2v1h-2zM860 321h2v1h-2zM862 322h2v1h-2zM864 323h3v1h-3zM867 324h2v1h-2zM869 325h3v1h-3zM872 326h2v1h-2zM874 327h3v1h-3zM877 328h2v1h-2zM879 329h5v1h-5zM884 330h8v1h-8zM892 331h6v1h-6zM898 332h5v1h-5zM903 333h5v1h-5zM908 334h6v1h-6zM914 335h8v1h-8zM922 336h9v1h-9zM931 335h12v1h-12zM943 336h17v1h-17zM960 335h10v1h-10zM970 334h2v1h-2zM972 333h2v1h-2zM974 332h2v1h-2zM976 331h2v1h-2zM978 330h2v1h-2zM980 329h2v1h-2zM982 328h2v1h-2zM984 327h3v1h-3zM987 326h2v1h-2zM989 325h3v1h-3zM992 324h2v1h-2zM994 323h4v1h-4zM998 322h5v1h-5zM1003 321h5v1h-5zM1008 320h6v1h-6zM1014 319h8v1h-8zM1022 318h9v1h-9zM1031 317h6v1h-6zM1037 316h2v1h-2zM1039 315h3v1h-3zM1042 314h2v1h-2zM1044 313h3v1h-3zM1047 312h2v1h-2zM1049 311h3v1h-3zM1052 310h3v1h-3zM1055 309h3v1h-3zM1058 308h3v1h-3zM1061 307h3v1h-3zM1064 306h4v1h-4zM1068 305h5v1h-5zM1073 304h5v1h-5zM1078 303h4v1h-4zM1082 302h4v1h-4zM1086 301h4v1h-4zM1090 300h4v1h-4zM1094 299h4v1h-4zM1098 298h5v1h-5zM1103 297h5v1h-5zM1108 296h5v1h-5zM1113 295h5v1h-5zM1118 294h5v1h-5zM1123 293h5v1h-5zM1128 292h5v1h-5zM1133 291h6v1h-6zM1139 290h7v1h-7zM1146 289h6v1h-6zM1152 288h11v1h-11zM1163 287h15v1h-15zM1178 288h11v1h-11zM1189 289h8v1h-8zM1197 290h5v1h-5zM1202 291h4v1h-4zM1206 292h4v1h-4zM1210 293h4v1h-4zM1214 294h3v1h-3zM1217 295h4v1h-4zM1221 296h4v1h-4zM1225 297h4v1h-4zM1229 298h4v1h-4zM1233 299h5v1h-5zM1238 300h5v1h-5zM1243 301h6v1h-6zM1249 302h7v1h-7zM1256 303h6v1h-6zM1262 304h27v1h-27zM1289 303h8v1h-8zM1297 302h11v1h-11zM1308 301h18v1h-18zM1326 300h13v1h-13zM1339 301h8v1h-8zM1347 302h7v1h-7zM1354 303h8v1h-8zM1362 304h14v1h-14zM1376 303h20v1h-20zM1396 302h13v1h-13zM1409 301h6v1h-6zM1415 300h10v1h-10zM1425 301h8v1h-8zM1433 302h5v1h-5zM1438 303h5v1h-5zM1443 304h5v1h-5zM1448 305h5v1h-5zM1453 306h6v1h-6zM1459 307h8v1h-8zM1467 308h50v1h-50zM1517 307h14v1h-14zM1531 306h10v1h-10zM1541 307h6v1h-6zM1547 308h7v1h-7zM1554 309h8v1h-8zM1562 310h5v1h-5zM1567 311h3v1h-3zM1570 312h4v1h-4zM1574 313h3v1h-3zM1577 314h3v1h-3zM1580 315h4v1h-4zM1584 316h3v1h-3zM1587 317h4v1h-4zM1591 318h4v1h-4zM1595 319h4v1h-4zM1599 320h4v1h-4zM1603 321h4v1h-4zM1607 322h4v1h-4zM1611 323h4v1h-4zM1615 324h4v1h-4zM1619 325h4v1h-4zM1623 326h16v1h-16zM1639 325h6v1h-6zM1645 324h6v1h-6zM1651 323h8v1h-8zM1659 322h6v1h-6z"/>
<path fill="#ff0000" d="M0 5h2v1h-2zM2 6h4v1h-4zM6 7h4v1h-4zM10 8h4v1h-4zM14 9h3v1h-3zM17 10h4v1h-4zM21 11h4v1h-4zM25 12h4v1h-4zM29 13h4v1h-4zM33 14h4v1h-4zM37 15h4v1h-4zM41 16h5v1h-5zM46 17h4v1h-4zM50 18h4v1h-4zM54 19h4v1h-4zM58 20h4v1h-4zM62 21h3v1h-3zM65 22h3v1h-3zM68 23h3v1h-3zM71 24h3v1h-3zM74 25h3v1h-3zM77 26h3v1h-3zM80 27h4v1h-4zM84 28h3v1h-3zM87 29h3v1h-3zM90 30h4v1h-4zM94 31h3v1h-3zM97 32h2v1h-2zM99 33h3v1h-3zM102 34h2v1h-2zM104 35h3v1h-3zM107 36h2v1h-2zM109 37h3v1h-3zM112 38h2v1h-2zM114 39h2v1h-2zM116 40h2v1h-2zM118 41h2v1h-2zM120 42h2v1h-2zM122 43h2v1h-2zM124 44h3v1h-3zM127 45h2v1h-2zM129 46h2v1h-2zM131 47h2v1h-2zM133 48h2v1h-2zM135 49h2v1h-2zM137 50h2v1h-2zM139 51h3v1h-3zM142 52h2v1h-2zM144 53h3v1h-3zM147 54h2v1h-2zM149 55h3v1h-3zM152 56h2v1h-2zM154 57h3v1h-3zM157 58h4v1h-4zM161 59h4v1h-4zM165 60h4v1h-4zM169 61h3v1h-3zM172 62h2v1h-2zM174 63h3v1h-3zM177 64h2v1h-2zM179 65h5v1h-5zM184 66h7v1h-7zM191 67h6v1h-6zM197 68h6v1h-6zM203 69h5v1h-5zM208 70h5v1h-5zM213 71h5v1h-5zM218 72h5v1h-5zM223 73h4v1h-4zM227 74h4v1h-4zM231 75h4v1h-4zM235 76h4v1h-4zM239 77h3v1h-3zM242 78h2v1h-2zM244 79h3v1h-3zM247 80h2v1h-2zM249 81h3v1h-3zM252 82h2v1h-2zM254 83h3v1h-3zM257 84h2v1h-2zM259 85h3v1h-3zM262 86h2v1h-2zM264 87h3v1h-3zM267 88h2v1h-2zM269 89h3v1h-3zM272 90h2v1h-2zM274 91h3v1h-3zM277 92h3v1h-3zM280 93h3v1h-3zM283 94h3v1h-3zM286 95h3v1h-3zM289 96h3v1h-3zM292 97h3v1h-3zM295 98h3v1h-3zM298 99h3v1h-3zM301 100h3v1h-3zM304 101h7v1h-7zM311 102h10v1h-10zM321 103h11v1h-11zM332 104h12v1h-12zM344 105h13v1h-13zM357 106h12v1h-12zM369 107h13v1h-13zM382 108h12v1h-12zM394 109h14v1h-14zM408 110h15v1h-15zM423 111h18v1h-18zM441 112h20v1h-20zM461 113h32v1h-32zM493 114h26v1h-26zM519 115h8v1h-8zM527 116h6v1h-6zM533 117h5v1h-5zM538 118h5v1h-5zM543 119h5v1h-5zM548 120h7v1h-7zM555 121h8v1h-8zM563 122h8v1h-8zM571 123h9v1h-9zM580 124h8v1h-8zM588 125h8v1h-8zM596 126h7v1h-7zM603 127h5v1h-5zM608 128h5v1h-5zM613 129h5v1h-5zM618 130h5v1h-5zM623 131h5v1h-5zM628 132h5v1h-5zM633 133h5v1h-5zM638 134h5v1h-5zM643 135h5v1h-5zM648 136h5v1h-5zM653 137h5v1h-5zM658 138h5v1h-5zM663 139h5v1h-5zM668 140h5v1h-5zM673 141h8v1h-8zM681 142h10v1h-10zM691 143h11v1h-11zM702 144h12v1h-12zM714 145h14v1h-14zM728 144h15v1h-15zM743 143h39v1h-39zM782 144h12v1h-12zM794 145h19v1h-19zM813 146h15v1h-15zM828 147h5v1h-5zM833 148h5v1h-5zM838 149h5v1h-5zM843 150h5v1h-5zM848 151h5v1h-5zM853 152h5v1h-5zM858 153h5v1h-5zM863 154h5v1h-5zM868 155h6v1h-6zM874 156h6v1h-6zM880 157h6v1h-6zM886 158h6v1h-6zM892 159h7v1h-7zM899 160h6v1h-6zM905 161h6v1h-6zM911 162h6v1h-6zM917 163h8v1h-8zM925 164h8v1h-8zM933 165h8v1h-8zM941 166h11v1h-11zM952 167h12v1h-12zM964 168h19v1h-19zM983 169h19v1h-19zM1002 170h12v1h-12zM1014 171h10v1h-10zM1024 172h6v1h-6zM1030 173h6v1h-6zM1036 174h6v1h-6zM1042 175h7v1h-7zM1049 176h6v1h-6zM1055 177h6v1h-6zM1061 178h6v1h-6zM1067 179h6v1h-6zM1073 180h5v1h-5zM1078 181h5v1h-5zM1083 182h5v1h-5zM1088 183h5v1h-5zM1093 184h5v1h-5zM1098 185h5v1h-5zM1103 186h8v1h-8zM1111 187h10v1h-10zM1121 188h10v1h-10zM1131 189h7v1h-7zM1138 190h5v1h-5zM1143 191h5v1h-5zM1148 192h5v1h-5zM1153 193h5v1h-5zM1158 194h5v1h-5zM1163 195h5v1h-5zM1168 196h5v1h-5zM1173 197h5v1h-5zM1178 198h5v1h-5zM1183 199h4v1h-4zM1187 200h4v1h-4zM1191 201h3v1h-3zM1194 202h3v1h-3zM1197 203h4v1h-4zM1201 204h3v1h-3zM1204 205h3v1h-3zM1207 206h3v1h-3zM1210 207h3v1h-3zM1213 208h3v1h-3zM1216 209h4v1h-4zM1220 210h3v1h-3zM1223 211h3v1h-3zM1226 212h3v1h-3zM1229 213h4v1h-4zM1233 214h4v1h-4zM1237 215h4v1h-4zM1241 216h4v1h-4zM1245 217h4v1h-4zM1249 218h4v1h-4zM1253 219h4v1h-4zM1257 220h4v1h-4zM1261 221h3v1h-3zM1264 222h4v1h-4zM1268 223h4v1h-4zM1272 224h3v1h-3zM1275 225h4v1h-4zM1279 226h4v1h-4zM1283 227h5v1h-5zM1288 228h5v1h-5zM1293 229h5v1h-5zM1298 230h5v1h-5zM1303 231h4v1h-4zM1307 232h4v1h-4zM1311 233h3v1h-3zM1314 234h4v1h-4zM1318 235h4v1h-4zM1322 236h3v1h-3zM1325 237h4v1h-4zM1329 238h4v1h-4zM1333 239h4v1h-4zM1337 240h4v1h-4zM1341 241h4v1h-4zM1345 242h4v1h-4zM1349 243h4v1h-4zM1353 244h4v1h-4zM1357 245h4v1h-4zM1361 246h4v1h-4zM1365 247h4v1h-4zM1369 248h5v1h-5zM1374 249h6v1h-6zM1380 250h6v1h-6zM1386 251h6v1h-6zM1392 252h7v1h-7zM1399 253h8v1h-8zM1407 254h7v1h-7zM1414 255h8v1h-8zM1422 256h8v1h-8zM1430 257h8v1h-8zM1438 258h8v1h-8zM1446 259h8v1h-8zM1454 260h6v1h-6zM1460 261h6v1h-6zM1466 262h6v1h-6zM1472 263h11v1h-11zM1483 264h11v1h-11zM1494 265h6v1h-6zM1500 266h5v1h-5zM1505 267h4v1h-4zM1509 268h3v1h-3zM1512 269h4v1h-4zM1516 270h5v1h-5zM1521 271h6v1h-6zM1527 272h6v1h-6zM1533 273h4v1h-4zM1537 274h4v1h-4zM1541 275h5v1h-5zM1546 276h5v1h-5zM1551 277h4v1h-4zM1555 278h5v1h-5zM1560 279h4v1h-4zM1564 280h4v1h-4zM1568 281h10v1h-10zM1578 282h10v1h-10zM1588 283h6v1h-6zM1594 284h7v1h-7zM1601 285h6v1h-6zM1607 286h7v1h-7zM1614 287h7v1h-7zM1621 288h8v1h-8zM1629 289h8v1h-8zM1637 290h9v1h-9zM1646 291h9v1h-9zM1655 292h7v1h-7zM1662 293h3v1h-3z"/>
<rect x="0" y="45" width="1685" height="2" fill="#ff0000"/>
<rect x="0" y="186" width="1685" height="2" fill="#ff0000"/>
<rect x="0" y="343" width="1685" height="2" fill="#32cd32"/>
<rect x="0" y="468" width="1685" height="2" fill="#4169e1"/>
<path fill="#000" d="M1685 0h1v561h-1zM0 560h1686v1h-1686zM0 562h1686v1h-1686zM1685 562h1v126h-1zM0 687h1686v1h-1686zM0 689h1686v1h-1686zM1685 689h1v125h-1zM0 813h1686v1h-1686z"/>
<path fill="#000" d="M1686 29h2v1h-2zM1686 62h2v1h-2zM1686 95h2v1h-2zM1686 128h2v1h-2zM1686 161h2v1h-2zM1686 194h2v1h-2zM1686 227h2v1h-2zM1686 260h2v1h-2zM1686 293h2v1h-2zM1686 326h2v1h-2zM1686 359h2v1h-2zM1686 392h2v1h-2zM1686 425h2v1h-2zM1686 458h2v1h-2zM1686 491h2v1h-2zM1686 524h2v1h-2zM1686 557h2v1h-2zM1686 564h1v1h-1zM1686 604h1v1h-1zM1686 686h1v1h-1zM1686 691h1v1h-1zM1686 812h1v1h-1zM0 814h1v3h-1zM64 814h1v3h-1zM128 814h1v3h-1zM192 814h1v3h-1zM256 814h1v3h-1zM320 814h1v3h-1zM384 814h1v3h-1zM448 814h1v3h-1zM512 814h1v3h-1zM576 814h1v3h-1zM640 814h1v3h-1zM704 814h1v3h-1zM768 814h1v3h-1zM832 814h1v3h-1zM896 814h1v3h-1zM960 814h1v3h-1zM1024 814h1v3h-1zM1088 814h1v3h-1zM1152 814h1v3h-1zM1216 814h1v3h-1zM1280 814h1v3h-1zM1344 814h1v3h-1zM1408 814h1v3h-1zM1472 814h1v3h-1zM1536 814h1v3h-1zM1600 814h1v3h-1zM1664 814h1v3h-1z"/>
<path fill="#c0c0c0" d="M0 604h1v17h-1zM8 604h1v22h-1zM16 604h1v23h-1zM24 604h1v19h-1zM32 604h1v16h-1zM40 604h1v17h-1zM48 604h1v18h-1zM56 604h1v21h-1zM64 604h1v22h-1zM72 604h1v17h-1zM80 604h1v14h-1zM88 604h1v10h-1zM96 604h1v7h-1zM104 604h1v8h-1zM112 604h1v9h-1zM120 604h1v10h-1zM128 604h1v7h-1zM136 604h1v6h-1zM144 604h1v7h-1zM152 604h1v8h-1zM160 604h1v8h-1zM168 604h1v8h-1zM176 604h1v8h-1zM184 604h1v4h-1zM192 604h1v3h-1zM200 604h1v1h-1zM208 604h1v1h-1zM216 604h1v2h-1zM224 604h1v4h-1zM232 604h1v15h-1zM240 604h1v26h-1zM248 604h1v35h-1zM256 604h1v52h-1zM264 604h1v64h-1zM272 604h1v73h-1zM280 604h1v75h-1zM288 604h1v75h-1zM296 604h1v77h-1zM304 604h1v77h-1zM312 604h1v67h-1zM320 604h1v60h-1zM328 604h1v52h-1zM336 604h1v47h-1zM344 604h1v40h-1zM352 604h1v34h-1zM360 604h1v29h-1zM368 604h1v26h-1zM376 604h1v24h-1zM384 604h1v23h-1zM392 604h1v17h-1zM400 604h1v13h-1zM408 604h1v11h-1zM416 604h1v3h-1zM424 604h1v1h-1zM432 601h1v4h-1zM440 601h1v4h-1zM448 601h1v4h-1zM456 603h1v2h-1zM488 604h1v1h-1zM496 604h1v9h-1zM504 604h1v11h-1zM512 604h1v12h-1zM520 604h1v18h-1zM528 604h1v22h-1zM536 604h1v32h-1zM544 604h1v39h-1zM552 604h1v39h-1zM560 604h1v39h-1zM568 604h1v34h-1zM576 604h1v29h-1zM584 604h1v26h-1zM592 604h1v22h-1zM600 604h1v24h-1zM608 604h1v26h-1zM616 604h1v24h-1zM624 604h1v24h-1zM632 604h1v25h-1zM640 604h1v26h-1zM648 604h1v29h-1zM656 604h1v28h-1zM664 604h1v19h-1zM672 604h1v14h-1zM680 604h1v11h-1zM688 604h1v7h-1zM696 604h1v4h-1zM704 604h1v4h-1zM712 603h1v2h-1zM720 598h1v7h-1zM728 594h1v11h-1zM736 587h1v18h-1zM744 582h1v23h-1zM752 579h1v26h-1zM760 580h1v25h-1zM768 578h1v27h-1zM776 573h1v32h-1zM784 570h1v35h-1zM792 570h1v35h-1zM800 571h1v34h-1zM808 573h1v32h-1zM816 577h1v28h-1zM824 583h1v22h-1zM832 589h1v16h-1zM840 599h1v6h-1zM848 604h1v1h-1zM856 604h1v7h-1zM864 604h1v9h-1zM872 604h1v15h-1zM880 604h1v17h-1zM888 604h1v17h-1zM896 604h1v17h-1zM904 604h1v15h-1zM912 604h1v13h-1zM920 604h1v12h-1zM928 604h1v9h-1zM936 604h1v6h-1zM944 604h1v4h-1zM952 604h1v7h-1zM960 604h1v7h-1zM968 604h1v7h-1zM976 604h1v7h-1zM984 604h1v2h-1zM992 604h1v1h-1zM1000 599h1v6h-1zM1008 596h1v9h-1zM1016 596h1v9h-1zM1024 598h1v7h-1zM1032 598h1v7h-1zM1040 596h1v9h-1zM1048 596h1v9h-1zM1056 597h1v8h-1zM1064 595h1v10h-1zM1072 595h1v10h-1zM1080 600h1v5h-1zM1088 603h1v2h-1zM1096 601h1v4h-1zM1104 601h1v4h-1zM1112 600h1v5h-1zM1120 601h1v4h-1zM1128 600h1v5h-1zM1136 600h1v5h-1zM1144 595h1v10h-1zM1152 593h1v12h-1zM1160 591h1v14h-1zM1168 589h1v16h-1zM1176 588h1v17h-1zM1184 588h1v17h-1zM1192 593h1v12h-1zM1200 598h1v7h-1zM1208 602h1v3h-1zM1224 604h1v2h-1zM1232 604h1v2h-1zM1240 604h1v3h-1zM1248 604h1v4h-1zM1256 604h1v7h-1zM1264 604h1v10h-1zM1272 604h1v14h-1zM1280 604h1v17h-1zM1288 604h1v15h-1zM1296 604h1v15h-1zM1304 604h1v13h-1zM1312 604h1v14h-1zM1320 604h1v14h-1zM1328 604h1v15h-1zM1336 604h1v17h-1zM1344 604h1v17h-1zM1352 604h1v19h-1zM1360 604h1v20h-1zM1368 604h1v17h-1zM1376 604h1v12h-1zM1384 604h1v9h-1zM1392 604h1v4h-1zM1400 604h1v3h-1zM1408 604h1v1h-1zM1424 603h1v2h-1zM1432 603h1v2h-1zM1440 603h1v2h-1zM1448 604h1v2h-1zM1456 604h1v2h-1zM1464 604h1v4h-1zM1472 604h1v1h-1zM1480 603h1v2h-1zM1488 602h1v3h-1zM1496 601h1v4h-1zM1504 600h1v5h-1zM1512 599h1v6h-1zM1520 596h1v9h-1zM1528 598h1v7h-1zM1536 599h1v6h-1zM1544 601h1v4h-1zM1552 603h1v2h-1zM1568 604h1v2h-1zM1576 604h1v5h-1zM1584 604h1v7h-1zM1592 604h1v8h-1zM1600 604h1v8h-1zM1608 604h1v8h-1zM1616 604h1v7h-1zM1624 604h1v6h-1zM1632 604h1v2h-1zM1648 602h1v3h-1zM1656 600h1v5h-1zM1664 598h1v7h-1z"/>
<path fill="#c0c0c0" d="M1 727h3v1h-3zM7 727h3v1h-3zM13 727h3v1h-3zM19 727h3v1h-3zM25 727h3v1h-3zM31 727h3v1h-3zM37 727h3v1h-3zM43 727h3v1h-3zM49 727h3v1h-3zM55 727h3v1h-3zM61 727h3v1h-3zM67 727h3v1h-3zM73 727h3v1h-3zM79 727h3v1h-3zM85 727h3v1h-3zM91 727h3v1h-3zM97 727h3v1h-3zM103 727h3v1h-3zM109 727h3v1h-3zM115 727h3v1h-3zM121 727h3v1h-3zM127 727h3v1h-3zM133 727h3v1h-3zM139 727h3v1h-3zM145 727h3v1h-3zM151 727h3v1h-3zM157 727h3v1h-3zM163 727h3v1h-3zM169 727h3v1h-3zM175 727h3v1h-3zM181 727h3v1h-3zM187 727h3v1h-3zM193 727h3v1h-3zM199 727h3v1h-3zM205 727h3v1h-3zM211 727h3v1h-3zM217 727h3v1h-3zM223 727h3v1h-3zM229 727h3v1h-3zM235 727h3v1h-3zM241 727h3v1h-3zM247 727h3v1h-3zM253 727h3v1h-3zM259 727h3v1h-3zM265 727h3v1h-3zM271 727h3v1h-3zM277 727h3v1h-3zM283 727h3v1h-3zM289 727h3v1h-3zM295 727h3v1h-3zM301 727h3v1h-3zM307 727h3v1h-3zM313 727h3v1h-3zM319 727h3v1h-3zM325 727h3v1h-3zM331 727h3v1h-3zM337 727h3v1h-3zM343 727h3v1h-3zM349 727h3v1h-3zM355 727h3v1h-3zM361 727h3v1h-3zM367 727h3v1h-3zM373 727h3v1h-3zM379 727h3v1h-3zM385 727h3v1h-3zM391 727h3v1h-3zM397 727h3v1h-3zM403 727h3v1h-3zM409 727h3v1h-3zM415 727h3v1h-3zM421 727h3v1h-3zM427 727h3v1h-3zM433 727h3v1h-3zM439 727h3v1h-3zM445 727h3v1h-3zM451 727h3v1h-3zM457 727h3v1h-3zM463 727h3v1h-3zM469 727h3v1h-3zM475 727h3v1h-3zM481 727h3v1h-3zM487 727h3v1h-3zM493 727h3v1h-3zM499 727h3v1h-3zM505 727h3v1h-3zM511 727h3v1h-3zM517 727h3v1h-3zM523 727h3v1h-3zM529 727h3v1h-3zM535 727h3v1h-3zM541 727h3v1h-3zM547 727h3v1h-3zM553 727h3v1h-3zM559 727h3v1h-3zM565 727h3v1h-3zM571 727h3v1h-3zM577 727h3v1h-3zM583 727h3v1h-3zM589 727h3v1h-3zM595 727h3v1h-3zM601 727h3v1h-3zM607 727h3v1h-3zM613 727h3v1h-3zM619 727h3v1h-3zM625 727h3v1h-3zM631 727h3v1h-3zM637 727h3v1h-3zM643 727h3v1h-3zM649 727h3v1h-3zM655 727h3v1h-3zM661 727h3v1h-3zM667 727h3v1h-3zM673 727h3v1h-3zM679 727h3v1h-3zM685 727h3v1h-3zM691 727h3v1h-3zM697 727h3v1h-3zM703 727h3v1h-3zM709 727h3v1h-3zM715 727h3v1h-3zM721 727h3v1h-3zM727 727h3v1h-3zM733 727h3v1h-3zM739 727h3v1h-3zM745 727h3v1h-3zM751 727h3v1h-3zM757 727h3v1h-3zM763 727h3v1h-3zM769 727h3v1h-3zM775 727h3v1h-3zM781 727h3v1h-3zM787 727h3v1h-3zM793 727h3v1h-3zM799 727h3v1h-3zM805 727h3v1h-3zM811 727h3v1h-3zM817 727h3v1h-3zM823 727h3v1h-3zM829 727h3v1h-3zM835 727h3v1h-3zM841 727h3v1h-3zM847 727h3v1h-3zM853 727h3v1h-3zM859 727h3v1h-3zM865 727h3v1h-3zM871 727h3v1h-3zM877 727h3v1h-3zM883 727h3v1h-3zM889 727h3v1h-3zM895 727h3v1h-3zM901 727h3v1h-3zM907 727h3v1h-3zM913 727h3v1h-3zM919 727h3v1h-3zM925 727h3v1h-3zM931 727h3v1h-3zM937 727h3v1h-3zM943 727h3v1h-3zM949 727h3v1h-3zM955 727h3v1h-3zM961 727h3v1h-3zM967 727h3v1h-3zM973 727h3v1h-3zM979 727h3v1h-3zM985 727h3v1h-3zM991 727h3v1h-3zM997 727h3v1h-3zM1003 727h3v1h-3zM1009 727h3v1h-3zM1015 727h3v1h-3zM1021 727h3v1h-3zM1027 727h3v1h-3zM1033 727h3v1h-3zM1039 727h3v1h-3zM1045 727h3v1h-3zM1051 727h3v1h-3zM1057 727h3v1h-3zM1063 727h3v1h-3zM1069 727h3v1h-3zM1075 727h3v1h-3zM1081 727h3v1h-3zM1087 727h3v1h-3zM1093 727h3v1h-3zM1099 727h3v1h-3zM1105 727h3v1h-3zM1111 727h3v1h-3zM1117 727h3v1h-3zM1123 727h3v1h-3zM1129 727h3v1h-3zM1135 727h3v1h-3zM1141 727h3v1h-3zM1147 727h3v1h-3zM1153 727h3v1h-3zM1159 727h3v1h-3zM1165 727h3v1h-3zM1171 727h3v1h-3zM1177 727h3v1h-3zM1183 727h3v1h-3zM1189 727h3v1h-3zM1195 727h3v1h-3zM1201 727h3v1h-3zM1207 727h3v1h-3zM1213 727h3v1h-3zM1219 727h3v1h-3zM1225 727h3v1h-3zM1231 727h3v1h-3zM1237 727h3v1h-3zM1243 727h3v1h-3zM1249 727h3v1h-3zM1255 727h3v1h-3zM1261 727h3v1h-3zM1267 727h3v1h-3zM1273 727h3v1h-3zM1279 727h3v1h-3zM1285 727h3v1h-3zM1291 727h3v1h-3zM1297 727h3v1h-3zM1303 727h3v1h-3zM1309 727h3v1h-3zM1315 727h3v1h-3zM1321 727h3v1h-3zM1327 727h3v1h-3zM1333 727h3v1h-3zM1339 727h3v1h-3zM1345 727h3v1h-3zM1351 727h3v1h-3zM1357 727h3v1h-3zM1363 727h3v1h-3zM1369 727h3v1h-3zM1375 727h3v1h-3zM1381 727h3v1h-3zM1387 727h3v1h-3zM1393 727h3v1h-3zM1399 727h3v1h-3zM1405 727h3v1h-3zM1411 727h3v1h-3zM1417 727h3v1h-3zM1423 727h3v1h-3zM1429 727h3v1h-3zM1435 727h3v1h-3zM1441 727h3v1h-3zM1447 727h3v1h-3zM1453 727h3v1h-3zM1459 727h3v1h-3zM1465 727h3v1h-3zM1471 727h3v1h-3zM1477 727h3v1h-3zM1483 727h3v1h-3zM1489 727h3v1h-3zM1495 727h3v1h-3zM1501 727h3v1h-3zM1507 727h3v1h-3zM1513 727h3v1h-3zM1519 727h3v1h-3zM1525 727h3v1h-3zM1531 727h3v1h-3zM1537 727h3v1h-3zM1543 727h3v1h-3zM1549 727h3v1h-3zM1555 727h3v1h-3zM1561 727h3v1h-3zM1567 727h3v1h-3zM1573 727h3v1h-3zM1579 727h3v1h-3zM1585 727h3v1h-3zM1591 727h3v1h-3zM1597 727h3v1h-3zM1603 727h3v1h-3zM1609 727h3v1h-3zM1615 727h3v1h-3zM1621 727h3v1h-3zM1627 727h3v1h-3zM1633 727h3v1h-3zM1639 727h3v1h-3zM1645 727h3v1h-3zM1651 727h3v1h-3zM1657 727h3v1h-3zM1663 727h3v1h-3zM1669 727h3v1h-3zM1675 727h3v1h-3zM1681 727h3v1h-3z"/>
<path fill="#c0c0c0" d="M1 776h3v1h-3zM7 776h3v1h-3zM13 776h3v1h-3zM19 776h3v1h-3zM25 776h3v1h-3zM31 776h3v1h-3zM37 776h3v1h-3zM43 776h3v1h-3zM49 776h3v1h-3zM55 776h3v1h-3zM61 776h3v1h-3zM67 776h3v1h-3zM73 776h3v1h-3zM79 776h3v1h-3zM85 776h3v1h-3zM91 776h3v1h-3zM97 776h3v1h-3zM103 776h3v1h-3zM109 776h3v1h-3zM115 776h3v1h-3zM121 776h3v1h-3zM127 776h3v1h-3zM133 776h3v1h-3zM139 776h3v1h-3zM145 776h3v1h-3zM151 776h3v1h-3zM157 776h3v1h-3zM163 776h3v1h-3zM169 776h3v1h-3zM175 776h3v1h-3zM181 776h3v1h-3zM187 776h3v1h-3zM193 776h3v1h-3zM199 776h3v1h-3zM205 776h3v1h-3zM211 776h3v1h-3zM217 776h3v1h-3zM223 776h3v1h-3zM229 776h3v1h-3zM235 776h3v1h-3zM241 776h3v1h-3zM247 776h3v1h-3zM253 776h3v1h-3zM259 776h3v1h-3zM265 776h3v1h-3zM271 776h3v1h-3zM277 776h3v1h-3zM283 776h3v1h-3zM289 776h3v1h-3zM295 776h3v1h-3zM301 776h3v1h-3zM307 776h3v1h-3zM313 776h3v1h-3zM319 776h3v1h-3zM325 776h3v1h-3zM331 776h3v1h-3zM337 776h3v1h-3zM343 776h3v1h-3zM349 776h3v1h-3zM355 776h3v1h-3zM361 776h3v1h-3zM367 776h3v1h-3zM373 776h3v1h-3zM379 776h3v1h-3zM385 776h3v1h-3zM391 776h3v1h-3zM397 776h3v1h-3zM403 776h3v1h-3zM409 776h3v1h-3zM415 776h3v1h-3zM421 776h3v1h-3zM427 776h3v1h-3zM433 776h3v1h-3zM439 776h3v1h-3zM445 776h3v1h-3zM451 776h3v1h-3zM457 776h3v1h-3zM463 776h3v1h-3zM469 776h3v1h-3zM475 776h3v1h-3zM481 776h3v1h-3zM487 776h3v1h-3zM493 776h3v1h-3zM499 776h3v1h-3zM505 776h3v1h-3zM511 776h3v1h-3zM517 776h3v1h-3zM523 776h3v1h-3zM529 776h3v1h-3zM535 776h3v1h-3zM541 776h3v1h-3zM547 776h3v1h-3zM553 776h3v1h-3zM559 776h3v1h-3zM565 776h3v1h-3zM571 776h3v1h-3zM577 776h3v1h-3zM583 776h3v1h-3zM589 776h3v1h-3zM595 776h3v1h-3zM601 776h3v1h-3zM607 776h3v1h-3zM613 776h3v1h-3zM619 776h3v1h-3zM625 776h3v1h-3zM631 776h3v1h-3zM637 776h3v1h-3zM643 776h3v1h-3zM649 776h3v1h-3zM655 776h3v1h-3zM661 776h3v1h-3zM667 776h3v1h-3zM673 776h3v1h-3zM679 776h3v1h-3zM685 776h3v1h-3zM691 776h3v1h-3zM697 776h3v1h-3zM703 776h3v1h-3zM709 776h3v1h-3zM715 776h3v1h-3zM721 776h3v1h-3zM727 776h3v1h-3zM733 776h3v1h-3zM739 776h3v1h-3zM745 776h3v1h-3zM751 776h3v1h-3zM757 776h3v1h-3zM763 776h3v1h-3zM769 776h3v1h-3zM775 776h3v1h-3zM781 776h3v1h-3zM787 776h3v1h-3zM793 776h3v1h-3zM799 776h3v1h-3zM805 776h3v1h-3zM811 776h3v1h-3zM817 776h3v1h-3zM823 776h3v1h-3zM829 776h3v1h-3zM835 776h3v1h-3zM841 776h3v1h-3zM847 776h3v1h-3zM853 776h3v1h-3zM859 776h3v1h-3zM865 776h3v1h-3zM871 776h3v1h-3zM877 776h3v1h-3zM883 776h3v1h-3zM889 776h3v1h-3zM895 776h3v1h-3zM901 776h3v1h-3zM907 776h3v1h-3zM913 776h3v1h-3zM919 776h3v1h-3zM925 776h3v1h-3zM931 776h3v1h-3zM937 776h3v1h-3zM943 776h3v1h-3zM949 776h3v1h-3zM955 776h3v1h-3zM961 776h3v1h-3zM967 776h3v1h-3zM973 776h3v1h-3zM979 776h3v1h-3zM985 776h3v1h-3zM991 776h3v1h-3zM997 776h3v1h-3zM1003 776h3v1h-3zM1009 776h3v1h-3zM1015 776h3v1h-3zM1021 776h3v1h-3zM1027 776h3v1h-3zM1033 776h3v1h-3zM1039 776h3v1h-3zM1045 776h3v1h-3zM1051 776h3v1h-3zM1057 776h3v1h-3zM1063 776h3v1h-3zM1069 776h3v1h-3zM1075 776h3v1h-3zM1081 776h3v1h-3zM1087 776h3v1h-3zM1093 776h3v1h-3zM1099 776h3v1h-3zM1105 776h3v1h-3zM1111 776h3v1h-3zM1117 776h3v1h-3zM1123 776h3v1h-3zM1129 776h3v1h-3zM1135 776h3v1h-3zM1141 776h3v1h-3zM1147 776h3v1h-3zM1153 776h3v1h-3zM1159 776h3v1h-3zM1165 776h3v1h-3zM1171 776h3v1h-3zM1177 776h3v1h-3zM1183 776h3v1h-3zM1189 776h3v1h-3zM1195 776h3v1h-3zM1201 776h3v1h-3zM1207 776h3v1h-3zM1213 776h3v1h-3zM1219 776h3v1h-3zM1225 776h3v1h-3zM1231 776h3v1h-3zM1237 776h3v1h-3zM1243 776h3v1h-3zM1249 776h3v1h-3zM1255 776h3v1h-3zM1261 776h3v1h-3zM1267 776h3v1h-3zM1273 776h3v1h-3zM1279 776h3v1h-3zM1285 776h3v1h-3zM1291 776h3v1h-3zM1297 776h3v1h-3zM1303 776h3v1h-3zM1309 776h3v1h-3zM1315 776h3v1h-3zM1321 776h3v1h-3zM1327 776h3v1h-3zM1333 776h3v1h-3zM1339 776h3v1h-3zM1345 776h3v1h-3zM1351 776h3v1h-3zM1357 776h3v1h-3zM1363 776h3v1h-3zM1369 776h3v1h-3zM1375 776h3v1h-3zM1381 776h3v1h-3zM1387 776h3v1h-3zM1393 776h3v1h-3zM1399 776h3v1h-3zM1405 776h3v1h-3zM1411 776h3v1h-3zM1417 776h3v1h-3zM1423 776h3v1h-3zM1429 776h3v1h-3zM1435 776h3v1h-3zM1441 776h3v1h-3zM1447 776h3v1h-3zM1453 776h3v1h-3zM1459 776h3v1h-3zM1465 776h3v1h-3zM1471 776h3v1h-3zM1477 776h3v1h-3zM1483 776h3v1h-3zM1489 776h3v1h-3zM1495 776h3v1h-3zM1501 776h3v1h-3zM1507 776h3v1h-3zM1513 776h3v1h-3zM1519 776h3v1h-3zM1525 776h3v1h-3zM1531 776h3v1h-3zM1537 776h3v1h-3zM1543 776h3v1h-3zM1549 776h3v1h-3zM1555 776h3v1h-3zM1561 776h3v1h-3zM1567 776h3v1h-3zM1573 776h3v1h-3zM1579 776h3v1h-3zM1585 776h3v1h-3zM1591 776h3v1h-3zM1597 776h3v1h-3zM1603 776h3v1h-3zM1609 776h3v1h-3zM1615 776h3v1h-3zM1621 776h3v1h-3zM1627 776h3v1h-3zM1633 776h3v1h-3zM1639 776h3v1h-3zM1645 776h3v1h-3zM1651 776h3v1h-3zM1657 776h3v1h-3zM1663 776h3v1h-3zM1669 776h3v1h-3zM1675 776h3v1h-3zM1681 776h3v1h-3z"/>
<path fill="#ff0000" d="M0 608h2v1h-2zM2 609h1v1h-1zM6 610h1v1h-1zM7 611h2v1h-2zM12 612h1v1h-1zM13 613h2v1h-2zM18 614h1v1h-1zM19 615h2v1h-2zM24 616h2v1h-2zM26 617h1v1h-1zM30 618h1v1h-1zM31 619h2v1h-2zM36 620h3v1h-3zM42 621h1v1h-1zM43 622h2v1h-2zM48 623h3v1h-3zM54 624h3v1h-3zM60 624h1v1h-1zM61 625h2v1h-2zM66 625h3v1h-3zM72 624h3v1h-3zM78 623h3v1h-3zM84 622h3v1h-3zM90 621h3v1h-3zM96 620h3v1h-3zM102 619h3v1h-3zM108 619h1v1h-1zM109 618h2v1h-2zM114 618h3v1h-3zM120 617h3v1h-3zM126 616h3v1h-3zM132 615h3v1h-3zM138 614h3v1h-3zM144 613h3v1h-3zM150 613h3v1h-3zM156 613h1v1h-1zM157 612h2v1h-2zM162 612h3v1h-3zM168 612h3v1h-3zM174 612h3v1h-3zM180 612h3v1h-3zM186 612h3v1h-3zM192 611h3v1h-3zM198 610h3v1h-3zM204 610h1v1h-1zM205 609h2v1h-2zM210 609h3v1h-3zM216 609h3v1h-3zM222 608h3v1h-3zM228 609h3v1h-3zM234 610h1v1h-1zM235 611h2v1h-2zM240 612h2v1h-2zM242 613h1v1h-1zM246 614h1v1h-1zM247 615h2v1h-2zM252 618h1v1h-1zM253 619h2v1h-2zM258 623h1v1h-1zM259 624h2v1h-2zM264 628h1v1h-1zM265 629h1v1h-1zM266 630h1v1h-1zM270 633h1v1h-1zM271 634h1v1h-1zM272 635h1v1h-1zM276 639h1v1h-1zM277 640h1v1h-1zM278 641h1v1h-1zM282 645h1v1h-1zM283 646h1v1h-1zM284 647h1v1h-1zM288 651h1v1h-1zM289 652h1v1h-1zM290 653h1v1h-1zM294 656h1v1h-1zM295 657h1v1h-1zM296 658h1v1h-1zM300 661h1v1h-1zM301 662h1v1h-1zM302 663h1v1h-1zM306 666h1v1h-1zM307 667h2v1h-2zM312 670h2v1h-2zM314 671h1v1h-1zM318 672h1v1h-1zM319 673h2v1h-2zM324 673h3v1h-3zM330 673h3v1h-3zM336 672h2v1h-2zM338 671h1v1h-1zM342 670h1v1h-1zM343 669h2v1h-2zM348 666h1v1h-1zM349 665h2v1h-2zM354 662h1v1h-1zM355 661h2v1h-2zM360 658h1v1h-1zM361 657h2v1h-2zM366 654h1v1h-1zM367 653h1v1h-1zM368 652h1v1h-1zM372 649h1v1h-1zM373 648h2v1h-2zM378 645h1v1h-1zM379 644h2v1h-2zM384 641h1v1h-1zM385 640h2v1h-2zM390 637h2v1h-2zM392 636h1v1h-1zM396 634h1v1h-1zM397 633h1v1h-1zM398 632h1v1h-1zM402 630h3v1h-3zM408 628h1v1h-1zM409 627h2v1h-2zM414 624h2v1h-2zM416 623h1v1h-1zM420 622h1v1h-1zM421 621h2v1h-2zM426 619h3v1h-3zM432 617h2v1h-2zM434 616h1v1h-1zM438 615h1v1h-1zM439 614h2v1h-2zM444 613h1v1h-1zM445 612h2v1h-2zM450 610h3v1h-3zM456 608h3v1h-3zM462 607h1v1h-1zM463 606h2v1h-2zM468 605h3v1h-3zM474 604h3v1h-3zM480 603h3v1h-3zM486 603h3v1h-3zM492 603h1v1h-1zM493 604h2v1h-2zM498 604h1v1h-1zM499 605h2v1h-2zM504 606h3v1h-3zM510 607h1v1h-1zM511 608h2v1h-2zM516 608h1v1h-1zM517 609h2v1h-2zM522 610h2v1h-2zM524 611h1v1h-1zM528 613h2v1h-2zM530 614h1v1h-1zM534 615h1v1h-1zM535 616h2v1h-2zM540 618h2v1h-2zM542 619h1v1h-1zM546 621h2v1h-2zM548 622h1v1h-1zM552 624h1v1h-1zM553 625h2v1h-2zM558 628h1v1h-1zM559 629h1v1h-1zM560 630h1v1h-1zM564 630h1v1h-1zM565 631h2v1h-2zM570 631h1v1h-1zM571 632h2v1h-2zM576 633h3v1h-3zM582 634h1v1h-1zM583 635h2v1h-2zM588 635h1v1h-1zM589 636h2v1h-2zM594 636h3v1h-3zM600 636h3v1h-3zM606 636h3v1h-3zM612 635h3v1h-3zM618 634h3v1h-3zM624 633h3v1h-3zM630 632h1v1h-1zM631 631h2v1h-2zM636 630h3v1h-3zM642 629h3v1h-3zM648 630h3v1h-3zM654 630h3v1h-3zM660 630h1v1h-1zM661 629h2v1h-2zM666 629h3v1h-3zM672 628h3v1h-3zM678 627h3v1h-3zM684 626h3v1h-3zM690 625h1v1h-1zM691 624h2v1h-2zM696 623h3v1h-3zM702 622h1v1h-1zM703 621h2v1h-2zM708 619h2v1h-2zM710 618h1v1h-1zM714 616h2v1h-2zM716 615h1v1h-1zM720 613h2v1h-2zM722 612h1v1h-1zM726 611h1v1h-1zM727 610h2v1h-2zM732 608h1v1h-1zM733 607h1v1h-1zM734 606h1v1h-1zM738 604h1v1h-1zM739 603h2v1h-2zM744 600h2v1h-2zM746 599h1v1h-1zM750 597h2v1h-2zM752 596h1v1h-1zM756 595h1v1h-1zM757 594h2v1h-2zM762 592h2v1h-2zM764 591h1v1h-1zM768 589h2v1h-2zM770 588h1v1h-1zM774 586h2v1h-2zM776 585h1v1h-1zM780 583h2v1h-2zM782 582h1v1h-1zM786 580h3v1h-3zM792 578h3v1h-3zM798 577h1v1h-1zM799 576h2v1h-2zM804 576h1v1h-1zM805 575h2v1h-2zM810 575h3v1h-3zM816 574h3v1h-3zM822 574h3v1h-3zM828 575h3v1h-3zM834 576h1v1h-1zM835 577h2v1h-2zM840 578h2v1h-2zM842 579h1v1h-1zM846 580h1v1h-1zM847 581h2v1h-2zM852 583h1v1h-1zM853 584h1v1h-1zM854 585h1v1h-1zM858 587h1v1h-1zM859 588h2v1h-2zM864 591h1v1h-1zM865 592h2v1h-2zM870 595h2v1h-2zM872 596h1v1h-1zM876 599h1v1h-1zM877 600h2v1h-2zM882 603h1v1h-1zM883 604h2v1h-2zM888 607h2v1h-2zM890 608h1v1h-1zM894 610h2v1h-2zM896 611h1v1h-1zM900 612h1v1h-1zM901 613h2v1h-2zM906 614h1v1h-1zM907 615h2v1h-2zM912 616h3v1h-3zM918 617h1v1h-1zM919 618h2v1h-2zM924 618h1v1h-1zM925 619h2v1h-2zM930 619h3v1h-3zM936 619h3v1h-3zM942 618h1v1h-1zM943 617h2v1h-2zM948 617h1v1h-1zM949 616h2v1h-2zM954 616h3v1h-3zM960 615h3v1h-3zM966 614h1v1h-1zM967 613h2v1h-2zM972 613h1v1h-1zM973 612h2v1h-2zM978 612h3v1h-3zM984 611h3v1h-3zM990 610h3v1h-3zM996 609h3v1h-3zM1002 608h1v1h-1zM1003 607h2v1h-2zM1008 606h3v1h-3zM1014 605h3v1h-3zM1020 605h1v1h-1zM1021 604h2v1h-2zM1026 604h3v1h-3zM1032 603h3v1h-3zM1038 602h1v1h-1zM1039 601h2v1h-2zM1044 600h3v1h-3zM1050 599h3v1h-3zM1056 598h3v1h-3zM1062 597h3v1h-3zM1068 596h3v1h-3zM1074 595h3v1h-3zM1080 596h3v1h-3zM1086 597h3v1h-3zM1092 597h1v1h-1zM1093 598h2v1h-2zM1098 598h3v1h-3zM1104 598h3v1h-3zM1110 598h3v1h-3zM1116 598h1v1h-1zM1117 599h2v1h-2zM1122 599h3v1h-3zM1128 600h3v1h-3zM1134 600h3v1h-3zM1140 600h1v1h-1zM1141 599h2v1h-2zM1146 599h3v1h-3zM1152 599h3v1h-3zM1158 598h3v1h-3zM1164 597h3v1h-3zM1170 596h1v1h-1zM1171 595h2v1h-2zM1176 594h3v1h-3zM1182 593h3v1h-3zM1188 593h3v1h-3zM1194 593h3v1h-3zM1200 593h3v1h-3zM1206 593h3v1h-3zM1212 593h3v1h-3zM1218 593h1v1h-1zM1219 594h2v1h-2zM1224 595h2v1h-2zM1226 596h1v1h-1zM1230 597h1v1h-1zM1231 598h2v1h-2zM1236 598h1v1h-1zM1237 599h2v1h-2zM1242 599h1v1h-1zM1243 600h2v1h-2zM1248 601h3v1h-3zM1254 602h1v1h-1zM1255 603h2v1h-2zM1260 604h1v1h-1zM1261 605h2v1h-2zM1266 606h1v1h-1zM1267 607h2v1h-2zM1272 608h2v1h-2zM1274 609h1v1h-1zM1278 610h1v1h-1zM1279 611h2v1h-2zM1284 612h3v1h-3zM1290 613h1v1h-1zM1291 614h2v1h-2zM1296 615h3v1h-3zM1302 615h3v1h-3zM1308 615h1v1h-1zM1309 616h2v1h-2zM1314 616h1v1h-1zM1315 617h2v1h-2zM1320 618h3v1h-3zM1326 618h3v1h-3zM1332 619h3v1h-3zM1338 620h3v1h-3zM1344 620h3v1h-3zM1350 620h3v1h-3zM1356 620h1v1h-1zM1357 621h2v1h-2zM1362 621h3v1h-3zM1368 621h3v1h-3zM1374 620h3v1h-3zM1380 620h1v1h-1zM1381 619h2v1h-2zM1386 619h3v1h-3zM1392 618h3v1h-3zM1398 617h3v1h-3zM1404 616h3v1h-3zM1410 615h3v1h-3zM1416 614h2v1h-2zM1418 613h1v1h-1zM1422 612h1v1h-1zM1423 611h2v1h-2zM1428 610h3v1h-3zM1434 609h1v1h-1zM1435 608h2v1h-2zM1440 607h3v1h-3zM1446 606h3v1h-3zM1452 606h3v1h-3zM1458 606h3v1h-3zM1464 606h3v1h-3zM1470 606h3v1h-3zM1476 606h1v1h-1zM1477 605h2v1h-2zM1482 605h3v1h-3zM1488 605h3v1h-3zM1494 604h3v1h-3zM1500 604h1v1h-1zM1501 603h2v1h-2zM1506 603h3v1h-3zM1512 603h3v1h-3zM1518 602h3v1h-3zM1524 602h1v1h-1zM1525 601h2v1h-2zM1530 601h3v1h-3zM1536 600h3v1h-3zM1542 599h3v1h-3zM1548 599h3v1h-3zM1554 599h3v1h-3zM1560 599h3v1h-3zM1566 600h3v1h-3zM1572 600h1v1h-1zM1573 601h2v1h-2zM1578 601h3v1h-3zM1584 602h2v1h-2zM1586 603h1v1h-1zM1590 604h1v1h-1zM1591 605h2v1h-2zM1596 605h1v1h-1zM1597 606h2v1h-2zM1602 606h1v1h-1zM1603 607h2v1h-2zM1608 608h3v1h-3zM1614 609h3v1h-3zM1620 609h1v1h-1zM1621 610h2v1h-2zM1626 610h3v1h-3zM1632 611h3v1h-3zM1638 610h3v1h-3zM1644 610h1v1h-1zM1645 609h2v1h-2zM1650 609h3v1h-3zM1656 608h3v1h-3zM1662 607h1v1h-1zM1663 606h2v1h-2z"/>
<path fill="#1e90ff" d="M0 766h2v1h-2zM2 767h3v1h-3zM5 768h2v1h-2zM7 769h2v1h-2zM9 768h2v1h-2zM11 767h1v1h-1zM12 766h1v1h-1zM13 765h2v1h-2zM15 764h1v1h-1zM16 763h1v1h-1zM17 762h1v1h-1zM18 760h1v1h-1zM18 761h1v1h-1zM19 759h1v1h-1zM20 758h1v1h-1zM21 757h1v1h-1zM22 755h1v1h-1zM22 756h1v1h-1zM23 754h1v1h-1zM24 753h5v1h-5zM29 752h4v1h-4zM33 753h2v1h-2zM35 754h1v1h-1zM36 755h1v1h-1zM37 756h2v1h-2zM39 757h1v1h-1zM40 758h5v1h-5zM45 759h4v1h-4zM49 760h1v1h-1zM50 761h1v1h-1zM51 762h1v1h-1zM52 763h1v1h-1zM53 764h1v1h-1zM54 765h1v1h-1zM55 766h1v1h-1zM56 767h1v1h-1zM57 766h2v1h-2zM59 765h1v1h-1zM60 764h1v1h-1zM61 763h2v1h-2zM63 762h1v1h-1zM64 761h1v1h-1zM65 759h1v1h-1zM65 760h1v1h-1zM66 757h1v1h-1zM66 758h1v1h-1zM67 755h1v1h-1zM67 756h1v1h-1zM68 754h1v1h-1zM69 752h1v1h-1zM69 753h1v1h-1zM70 750h1v1h-1zM70 751h1v1h-1zM71 748h1v1h-1zM71 749h1v1h-1zM72 747h2v1h-2zM74 748h2v1h-2zM76 749h2v1h-2zM78 750h2v1h-2zM80 751h3v1h-3zM83 750h4v1h-4zM87 749h6v1h-6zM93 748h4v1h-4zM97 749h1v1h-1zM98 750h1v1h-1zM99 751h1v1h-1zM100 752h1v1h-1zM101 753h1v1h-1zM102 754h1v1h-1zM103 755h1v1h-1zM104 756h3v1h-3zM107 757h4v1h-4zM111 758h4v1h-4zM115 757h4v1h-4zM119 756h2v1h-2zM121 755h1v1h-1zM122 754h1v1h-1zM123 753h1v1h-1zM124 752h1v1h-1zM125 751h1v1h-1zM126 750h1v1h-1zM127 749h1v1h-1zM128 748h2v1h-2zM130 749h2v1h-2zM132 750h2v1h-2zM134 751h2v1h-2zM136 752h1v1h-1zM137 753h2v1h-2zM139 754h2v1h-2zM141 755h1v1h-1zM142 756h2v1h-2zM144 757h3v1h-3zM147 758h4v1h-4zM151 759h2v1h-2zM153 758h1v1h-1zM154 757h1v1h-1zM155 756h2v1h-2zM157 755h1v1h-1zM158 754h1v1h-1zM159 753h1v1h-1zM160 752h1v1h-1zM161 753h2v1h-2zM163 754h2v1h-2zM165 755h1v1h-1zM166 756h2v1h-2zM168 757h2v1h-2zM170 756h2v1h-2zM172 755h2v1h-2zM174 754h2v1h-2zM176 753h1v1h-1zM177 752h2v1h-2zM179 751h2v1h-2zM181 750h1v1h-1zM182 749h2v1h-2zM184 748h11v1h-11zM195 747h4v1h-4zM199 746h6v1h-6zM205 747h4v1h-4zM209 748h1v1h-1zM210 749h1v1h-1zM210 750h1v1h-1zM211 751h1v1h-1zM212 752h1v1h-1zM213 753h1v1h-1zM214 754h1v1h-1zM214 755h1v1h-1zM215 756h1v1h-1zM216 757h9v1h-9zM224 758h1v1h-1zM225 759h1v1h-1zM225 760h1v1h-1zM226 761h1v1h-1zM226 762h1v1h-1zM227 763h1v1h-1zM227 764h1v1h-1zM227 765h1v1h-1zM228 766h1v1h-1zM228 767h1v1h-1zM229 768h1v1h-1zM229 769h1v1h-1zM229 770h1v1h-1zM230 771h1v1h-1zM230 772h1v1h-1zM231 773h1v1h-1zM231 774h1v1h-1zM232 775h1v1h-1zM232 776h3v1h-3zM235 777h4v1h-4zM239 778h6v1h-6zM245 779h4v1h-4zM249 780h1v1h-1zM250 781h1v1h-1zM250 782h1v1h-1zM251 783h1v1h-1zM252 784h1v1h-1zM253 785h1v1h-1zM254 786h1v1h-1zM254 787h1v1h-1zM255 788h1v1h-1zM256 789h3v1h-3zM259 788h4v1h-4zM263 787h4v1h-4zM267 786h4v1h-4zM271 785h2v1h-2zM273 784h1v1h-1zM274 783h1v1h-1zM275 782h1v1h-1zM276 780h1v1h-1zM276 781h1v1h-1zM277 779h1v1h-1zM278 778h1v1h-1zM279 777h1v1h-1zM280 776h2v1h-2zM282 775h3v1h-3zM285 774h2v1h-2zM287 773h3v1h-3zM290 774h2v1h-2zM292 775h2v1h-2zM294 776h2v1h-2zM296 777h3v1h-3zM299 776h4v1h-4zM303 775h2v1h-2zM304 774h1v1h-1zM305 772h1v1h-1zM305 773h1v1h-1zM306 770h1v1h-1zM306 771h1v1h-1zM307 768h1v1h-1zM307 769h1v1h-1zM308 765h1v1h-1zM308 766h1v1h-1zM308 767h1v1h-1zM309 763h1v1h-1zM309 764h1v1h-1zM310 761h1v1h-1zM310 762h1v1h-1zM311 759h1v1h-1zM311 760h1v1h-1zM312 757h13v1h-13zM312 758h1v1h-1zM325 756h8v1h-8zM333 755h8v1h-8zM341 754h6v1h-6zM347 753h4v1h-4zM351 752h6v1h-6zM357 751h4v1h-4zM361 752h2v1h-2zM363 753h1v1h-1zM364 754h1v1h-1zM365 755h2v1h-2zM367 756h1v1h-1zM368 757h3v1h-3zM371 758h4v1h-4zM375 759h4v1h-4zM379 758h4v1h-4zM383 757h2v1h-2zM385 755h1v1h-1zM385 756h1v1h-1zM386 754h1v1h-1zM387 752h1v1h-1zM387 753h1v1h-1zM388 751h1v1h-1zM389 749h1v1h-1zM389 750h1v1h-1zM390 748h1v1h-1zM391 746h1v1h-1zM391 747h1v1h-1zM392 745h2v1h-2zM394 746h2v1h-2zM396 747h2v1h-2zM398 748h2v1h-2zM400 749h2v1h-2zM402 750h3v1h-3zM405 751h2v1h-2zM407 752h2v1h-2zM409 750h1v1h-1zM409 751h1v1h-1zM410 749h1v1h-1zM411 747h1v1h-1zM411 748h1v1h-1zM412 746h1v1h-1zM413 744h1v1h-1zM413 745h1v1h-1zM414 743h1v1h-1zM415 741h1v1h-1zM415 742h1v1h-1zM416 740h2v1h-2zM418 741h2v1h-2zM420 742h2v1h-2zM422 743h2v1h-2zM424 744h3v1h-3zM427 745h4v1h-4zM431 746h3v1h-3zM434 747h3v1h-3zM437 748h2v1h-2zM439 749h4v1h-4zM443 750h4v1h-4zM447 751h2v1h-2zM449 752h2v1h-2zM451 753h2v1h-2zM453 754h1v1h-1zM454 755h2v1h-2zM456 756h2v1h-2zM458 755h3v1h-3zM461 754h2v1h-2zM463 753h6v1h-6zM469 752h12v1h-12zM481 753h2v1h-2zM483 754h2v1h-2zM485 755h1v1h-1zM486 756h2v1h-2zM488 757h1v1h-1zM489 758h1v1h-1zM489 759h1v1h-1zM490 760h1v1h-1zM491 761h1v1h-1zM491 762h1v1h-1zM492 763h1v1h-1zM493 764h1v1h-1zM493 765h1v1h-1zM494 766h1v1h-1zM495 767h1v1h-1zM495 768h1v1h-1zM496 769h1v1h-1zM497 768h1v1h-1zM498 767h1v1h-1zM499 766h1v1h-1zM500 765h1v1h-1zM501 764h1v1h-1zM502 763h1v1h-1zM503 762h1v1h-1zM504 761h3v1h-3zM507 760h4v1h-4zM511 759h2v1h-2zM513 760h1v1h-1zM514 761h1v1h-1zM515 762h2v1h-2zM517 763h1v1h-1zM518 764h1v1h-1zM519 765h1v1h-1zM520 766h5v1h-5zM525 767h4v1h-4zM529 768h1v1h-1zM530 769h1v1h-1zM530 770h1v1h-1zM531 771h1v1h-1zM532 772h1v1h-1zM533 773h1v1h-1zM534 774h1v1h-1zM534 775h1v1h-1zM535 776h1v1h-1zM536 777h3v1h-3zM539 776h4v1h-4zM543 775h2v1h-2zM545 773h1v1h-1zM545 774h1v1h-1zM546 772h1v1h-1zM547 771h1v1h-1zM548 769h1v1h-1zM548 770h1v1h-1zM549 768h1v1h-1zM550 767h1v1h-1zM551 765h1v1h-1zM551 766h1v1h-1zM552 764h3v1h-3zM555 763h4v1h-4zM559 762h2v1h-2zM561 761h1v1h-1zM562 760h1v1h-1zM563 759h1v1h-1zM564 758h1v1h-1zM565 757h1v1h-1zM566 756h1v1h-1zM567 755h1v1h-1zM568 754h5v1h-5zM573 753h6v1h-6zM579 754h4v1h-4zM583 755h4v1h-4zM587 754h4v1h-4zM591 753h2v1h-2zM593 754h1v1h-1zM594 755h1v1h-1zM595 756h1v1h-1zM596 757h1v1h-1zM597 758h1v1h-1zM598 759h1v1h-1zM599 760h1v1h-1zM600 761h2v1h-2zM602 762h3v1h-3zM605 763h2v1h-2zM607 764h2v1h-2zM609 763h1v1h-1zM610 762h1v1h-1zM611 761h2v1h-2zM613 760h1v1h-1zM614 759h1v1h-1zM615 758h1v1h-1zM616 757h3v1h-3zM619 758h4v1h-4zM623 759h4v1h-4zM627 760h4v1h-4zM631 761h10v1h-10zM641 762h1v1h-1zM642 763h1v1h-1zM643 764h1v1h-1zM644 765h1v1h-1zM645 766h1v1h-1zM646 767h1v1h-1zM647 768h1v1h-1zM648 769h1v1h-1zM649 768h1v1h-1zM650 766h1v1h-1zM650 767h1v1h-1zM651 765h1v1h-1zM652 764h1v1h-1zM653 763h1v1h-1zM654 761h1v1h-1zM654 762h1v1h-1zM655 760h1v1h-1zM656 759h1v1h-1zM657 757h1v1h-1zM657 758h1v1h-1zM658 755h1v1h-1zM658 756h1v1h-1zM659 753h1v1h-1zM659 754h1v1h-1zM660 752h1v1h-1zM661 750h1v1h-1zM661 751h1v1h-1zM662 748h1v1h-1zM662 749h1v1h-1zM663 746h1v1h-1zM663 747h1v1h-1zM664 745h2v1h-2zM666 746h3v1h-3zM669 747h2v1h-2zM671 748h4v1h-4zM675 749h4v1h-4zM679 750h4v1h-4zM683 749h4v1h-4zM687 748h11v1h-11zM698 749h2v1h-2zM700 750h2v1h-2zM702 751h2v1h-2zM704 752h1v1h-1zM705 750h1v1h-1zM705 751h1v1h-1zM706 749h1v1h-1zM707 747h1v1h-1zM707 748h1v1h-1zM708 746h1v1h-1zM709 744h1v1h-1zM709 745h1v1h-1zM710 743h1v1h-1zM711 741h1v1h-1zM711 742h1v1h-1zM712 740h2v1h-2zM714 741h3v1h-3zM717 742h2v1h-2zM719 743h3v1h-3zM722 742h3v1h-3zM725 741h2v1h-2zM727 740h2v1h-2zM729 739h2v1h-2zM731 738h1v1h-1zM732 737h1v1h-1zM733 736h2v1h-2zM735 735h1v1h-1zM736 734h3v1h-3zM739 735h4v1h-4zM743 736h4v1h-4zM747 737h4v1h-4zM751 738h2v1h-2zM753 739h2v1h-2zM755 740h2v1h-2zM757 741h1v1h-1zM758 742h2v1h-2zM760 743h2v1h-2zM762 742h3v1h-3zM765 741h2v1h-2zM767 740h2v1h-2zM769 739h1v1h-1zM770 738h1v1h-1zM771 737h2v1h-2zM773 736h1v1h-1zM774 735h1v1h-1zM775 734h1v1h-1zM776 733h5v1h-5zM781 734h4v1h-4zM785 735h2v1h-2zM787 736h1v1h-1zM788 737h1v1h-1zM789 738h2v1h-2zM791 739h1v1h-1zM792 740h5v1h-5zM797 739h5v1h-5zM802 740h3v1h-3zM805 741h2v1h-2zM807 742h2v1h-2zM809 743h1v1h-1zM810 744h1v1h-1zM810 745h1v1h-1zM811 746h1v1h-1zM812 747h1v1h-1zM813 748h1v1h-1zM814 749h1v1h-1zM814 750h1v1h-1zM815 751h1v1h-1zM816 752h3v1h-3zM819 753h4v1h-4zM823 754h2v1h-2zM825 755h2v1h-2zM827 756h2v1h-2zM829 757h1v1h-1zM830 758h2v1h-2zM832 759h1v1h-1zM833 760h1v1h-1zM834 761h1v1h-1zM835 762h2v1h-2zM837 763h1v1h-1zM838 764h1v1h-1zM839 765h1v1h-1zM840 766h3v1h-3zM843 767h4v1h-4zM847 768h2v1h-2zM849 767h2v1h-2zM851 766h1v1h-1zM852 765h1v1h-1zM853 764h2v1h-2zM855 763h1v1h-1zM856 762h2v1h-2zM858 761h3v1h-3zM861 760h2v1h-2zM863 759h2v1h-2zM865 760h1v1h-1zM866 761h1v1h-1zM867 762h2v1h-2zM869 763h1v1h-1zM870 764h1v1h-1zM871 765h1v1h-1zM872 766h2v1h-2zM874 765h2v1h-2zM876 764h2v1h-2zM878 763h2v1h-2zM880 762h2v1h-2zM882 761h2v1h-2zM884 760h2v1h-2zM886 759h2v1h-2zM888 758h5v1h-5zM893 757h4v1h-4zM897 756h2v1h-2zM899 755h2v1h-2zM901 754h1v1h-1zM902 753h2v1h-2zM904 752h3v1h-3zM907 753h4v1h-4zM911 754h10v1h-10zM921 753h2v1h-2zM923 752h2v1h-2zM925 751h1v1h-1zM926 750h2v1h-2zM928 749h3v1h-3zM931 748h4v1h-4zM935 747h3v1h-3zM938 748h2v1h-2zM940 749h2v1h-2zM942 750h2v1h-2zM944 751h1v1h-1zM945 752h1v1h-1zM946 753h1v1h-1zM947 754h1v1h-1zM948 755h1v1h-1zM948 756h1v1h-1zM949 757h1v1h-1zM950 758h1v1h-1zM951 759h1v1h-1zM952 760h1v1h-1zM953 759h2v1h-2zM955 758h1v1h-1zM956 757h1v1h-1zM957 756h2v1h-2zM959 755h1v1h-1zM960 754h17v1h-17zM977 753h1v1h-1zM978 752h1v1h-1zM979 751h1v1h-1zM980 749h1v1h-1zM980 750h1v1h-1zM981 748h1v1h-1zM982 747h1v1h-1zM983 746h1v1h-1zM984 745h2v1h-2zM986 744h3v1h-3zM989 743h2v1h-2zM991 742h3v1h-3zM994 741h2v1h-2zM996 740h2v1h-2zM998 739h2v1h-2zM1000 738h2v1h-2zM1002 739h2v1h-2zM1004 740h2v1h-2zM1006 741h2v1h-2zM1008 742h1v1h-1zM1009 743h1v1h-1zM1010 744h1v1h-1zM1011 745h2v1h-2zM1013 746h1v1h-1zM1014 747h1v1h-1zM1015 748h1v1h-1zM1016 749h1v1h-1zM1017 750h2v1h-2zM1019 751h2v1h-2zM1021 752h1v1h-1zM1022 753h2v1h-2zM1024 754h1v1h-1zM1025 753h2v1h-2zM1027 752h2v1h-2zM1029 751h1v1h-1zM1030 750h2v1h-2zM1032 749h1v1h-1zM1033 748h2v1h-2zM1035 747h2v1h-2zM1037 746h1v1h-1zM1038 745h2v1h-2zM1040 744h2v1h-2zM1042 745h2v1h-2zM1044 746h2v1h-2zM1046 747h2v1h-2zM1048 748h2v1h-2zM1050 749h3v1h-3zM1053 750h2v1h-2zM1055 751h2v1h-2zM1057 750h1v1h-1zM1058 749h1v1h-1zM1059 748h2v1h-2zM1061 747h1v1h-1zM1062 746h1v1h-1zM1063 745h1v1h-1zM1064 744h3v1h-3zM1067 745h4v1h-4zM1071 746h2v1h-2zM1073 747h1v1h-1zM1073 748h1v1h-1zM1074 749h1v1h-1zM1074 750h1v1h-1zM1075 751h1v1h-1zM1075 752h1v1h-1zM1076 753h1v1h-1zM1076 754h1v1h-1zM1077 755h1v1h-1zM1077 756h1v1h-1zM1078 757h1v1h-1zM1078 758h1v1h-1zM1079 759h1v1h-1zM1079 760h1v1h-1zM1080 761h2v1h-2zM1082 760h2v1h-2zM1084 759h2v1h-2zM1086 758h2v1h-2zM1088 757h1v1h-1zM1089 756h1v1h-1zM1090 755h1v1h-1zM1091 754h1v1h-1zM1092 752h1v1h-1zM1092 753h1v1h-1zM1093 751h1v1h-1zM1094 750h1v1h-1zM1095 749h1v1h-1zM1096 748h3v1h-3zM1099 749h4v1h-4zM1103 750h3v1h-3zM1106 749h3v1h-3zM1109 748h2v1h-2zM1111 747h2v1h-2zM1113 748h2v1h-2zM1115 749h2v1h-2zM1117 750h1v1h-1zM1118 751h2v1h-2zM1120 752h1v1h-1zM1121 751h2v1h-2zM1123 750h2v1h-2zM1125 749h1v1h-1zM1126 748h2v1h-2zM1128 747h5v1h-5zM1133 746h4v1h-4zM1137 745h1v1h-1zM1138 744h1v1h-1zM1139 743h2v1h-2zM1141 742h1v1h-1zM1142 741h1v1h-1zM1143 740h1v1h-1zM1144 739h2v1h-2zM1146 740h2v1h-2zM1148 741h2v1h-2zM1150 742h2v1h-2zM1152 743h10v1h-10zM1162 742h3v1h-3zM1165 741h2v1h-2zM1167 740h10v1h-10zM1177 741h2v1h-2zM1179 742h2v1h-2zM1181 743h1v1h-1zM1182 744h2v1h-2zM1184 745h1v1h-1zM1185 746h1v1h-1zM1185 747h1v1h-1zM1186 748h1v1h-1zM1187 749h1v1h-1zM1187 750h1v1h-1zM1188 751h1v1h-1zM1189 752h1v1h-1zM1189 753h1v1h-1zM1190 754h1v1h-1zM1191 755h1v1h-1zM1191 756h1v1h-1zM1192 757h2v1h-2zM1194 758h3v1h-3zM1197 759h2v1h-2zM1199 760h14v1h-14zM1213 761h5v1h-5zM1218 760h2v1h-2zM1220 759h2v1h-2zM1222 758h2v1h-2zM1224 757h1v1h-1zM1225 756h2v1h-2zM1227 755h2v1h-2zM1229 754h1v1h-1zM1230 753h2v1h-2zM1232 752h2v1h-2zM1234 753h2v1h-2zM1236 754h2v1h-2zM1238 755h2v1h-2zM1240 756h5v1h-5zM1245 757h4v1h-4zM1249 758h1v1h-1zM1250 759h1v1h-1zM1251 760h2v1h-2zM1253 761h1v1h-1zM1254 762h1v1h-1zM1255 763h1v1h-1zM1256 764h2v1h-2zM1258 765h3v1h-3zM1261 766h2v1h-2zM1263 767h4v1h-4zM1267 768h4v1h-4zM1271 769h4v1h-4zM1275 770h4v1h-4zM1279 771h2v1h-2zM1281 769h1v1h-1zM1281 770h1v1h-1zM1282 767h1v1h-1zM1282 768h1v1h-1zM1283 766h1v1h-1zM1284 764h1v1h-1zM1284 765h1v1h-1zM1285 763h1v1h-1zM1286 761h1v1h-1zM1286 762h1v1h-1zM1287 759h1v1h-1zM1287 760h1v1h-1zM1288 758h5v1h-5zM1293 757h4v1h-4zM1297 756h2v1h-2zM1299 755h2v1h-2zM1301 754h1v1h-1zM1302 753h2v1h-2zM1304 752h1v1h-1zM1305 753h1v1h-1zM1306 754h1v1h-1zM1307 755h2v1h-2zM1309 756h1v1h-1zM1310 757h1v1h-1zM1311 758h1v1h-1zM1312 759h13v1h-13zM1325 760h5v1h-5zM1330 761h2v1h-2zM1332 762h2v1h-2zM1334 763h2v1h-2zM1336 764h2v1h-2zM1338 763h2v1h-2zM1340 762h2v1h-2zM1342 761h2v1h-2zM1344 760h1v1h-1zM1345 761h1v1h-1zM1345 762h1v1h-1zM1346 763h1v1h-1zM1346 764h1v1h-1zM1347 765h1v1h-1zM1348 766h1v1h-1zM1348 767h1v1h-1zM1349 768h1v1h-1zM1350 769h1v1h-1zM1350 770h1v1h-1zM1351 771h1v1h-1zM1351 772h1v1h-1zM1352 773h1v1h-1zM1353 771h1v1h-1zM1353 772h1v1h-1zM1354 770h1v1h-1zM1355 769h1v1h-1zM1356 767h1v1h-1zM1356 768h1v1h-1zM1357 766h1v1h-1zM1358 765h1v1h-1zM1359 763h1v1h-1zM1359 764h1v1h-1zM1360 762h1v1h-1zM1361 761h1v1h-1zM1362 759h1v1h-1zM1362 760h1v1h-1zM1363 758h1v1h-1zM1364 757h1v1h-1zM1365 756h1v1h-1zM1366 754h1v1h-1zM1366 755h1v1h-1zM1367 753h1v1h-1zM1368 752h1v1h-1zM1369 751h1v1h-1zM1370 750h1v1h-1zM1371 749h2v1h-2zM1373 748h1v1h-1zM1374 747h1v1h-1zM1375 746h1v1h-1zM1376 745h3v1h-3zM1379 746h4v1h-4zM1383 747h6v1h-6zM1389 746h5v1h-5zM1394 747h3v1h-3zM1397 748h2v1h-2zM1399 749h4v1h-4zM1403 748h4v1h-4zM1407 747h3v1h-3zM1410 746h2v1h-2zM1412 745h2v1h-2zM1414 744h2v1h-2zM1416 743h1v1h-1zM1417 744h2v1h-2zM1419 745h1v1h-1zM1420 746h1v1h-1zM1421 747h2v1h-2zM1423 748h1v1h-1zM1424 749h3v1h-3zM1427 750h4v1h-4zM1431 751h10v1h-10zM1441 752h1v1h-1zM1442 753h1v1h-1zM1443 754h2v1h-2zM1445 755h1v1h-1zM1446 756h1v1h-1zM1447 757h1v1h-1zM1448 758h2v1h-2zM1450 759h3v1h-3zM1453 760h2v1h-2zM1455 761h4v1h-4zM1459 760h4v1h-4zM1463 759h2v1h-2zM1465 757h1v1h-1zM1465 758h1v1h-1zM1466 756h1v1h-1zM1467 754h1v1h-1zM1467 755h1v1h-1zM1468 753h1v1h-1zM1469 751h1v1h-1zM1469 752h1v1h-1zM1470 750h1v1h-1zM1471 748h1v1h-1zM1471 749h1v1h-1zM1472 747h2v1h-2zM1474 746h3v1h-3zM1477 745h2v1h-2zM1479 744h14v1h-14zM1493 743h6v1h-6zM1499 744h4v1h-4zM1503 745h6v1h-6zM1509 744h13v1h-13zM1522 745h2v1h-2zM1524 746h2v1h-2zM1526 747h2v1h-2zM1528 748h3v1h-3zM1531 749h4v1h-4zM1535 750h2v1h-2zM1537 751h1v1h-1zM1538 752h1v1h-1zM1539 753h1v1h-1zM1540 754h1v1h-1zM1541 755h1v1h-1zM1542 756h1v1h-1zM1543 757h1v1h-1zM1544 758h3v1h-3zM1547 759h4v1h-4zM1551 760h19v1h-19zM1570 761h2v1h-2zM1572 762h2v1h-2zM1574 763h2v1h-2zM1576 764h3v1h-3zM1579 765h4v1h-4zM1583 766h3v1h-3zM1586 765h2v1h-2zM1588 764h2v1h-2zM1590 763h2v1h-2zM1592 762h3v1h-3zM1595 761h4v1h-4zM1599 760h3v1h-3zM1602 759h3v1h-3zM1605 758h2v1h-2zM1607 757h4v1h-4zM1611 756h4v1h-4zM1615 755h3v1h-3zM1618 754h2v1h-2zM1620 753h2v1h-2zM1622 752h2v1h-2zM1624 751h1v1h-1zM1625 749h1v1h-1zM1625 750h1v1h-1zM1626 748h1v1h-1zM1627 746h1v1h-1zM1627 747h1v1h-1zM1628 745h1v1h-1zM1629 743h1v1h-1zM1629 744h1v1h-1zM1630 742h1v1h-1zM1631 740h1v1h-1zM1631 741h1v1h-1zM1632 739h2v1h-2zM1634 738h2v1h-2zM1636 737h2v1h-2zM1638 736h2v1h-2zM1640 735h1v1h-1zM1641 736h1v1h-1zM1642 737h1v1h-1zM1642 738h1v1h-1zM1643 739h1v1h-1zM1644 740h1v1h-1zM1645 741h1v1h-1zM1646 742h1v1h-1zM1646 743h1v1h-1zM1647 744h1v1h-1zM1648 745h1v1h-1zM1649 744h2v1h-2zM1651 743h2v1h-2zM1653 742h1v1h-1zM1654 741h2v1h-2zM1656 740h3v1h-3zM1659 739h4v1h-4zM1663 738h2v1h-2z"/>
<rect x="0" y="834" width="1720" height="1" fill="#e3e3e3"/>
<path fill="#333" d="M0 836h338v1h-338zM337 836h1v2h-1zM444 836h1276v1h-1276zM444 836h1v2h-1z"/>
</g>
<text x="1691" y="33" textLength="27.5" lengthAdjust="spacingAndGlyphs">5151.5</text>
<text x="1691" y="66" textLength="27.5" lengthAdjust="spacingAndGlyphs">5120.0</text>
<text x="1691" y="99" textLength="27.5" lengthAdjust="spacingAndGlyphs">5088.0</text>
<text x="1691" y="132" textLength="27.5" lengthAdjust="spacingAndGlyphs">5056.5</text>
<text x="1691" y="165" textLength="27.5" lengthAdjust="spacingAndGlyphs">5025.0</text>
<text x="1691" y="198" textLength="27.5" lengthAdjust="spacingAndGlyphs">4993.5</text>
<text x="1691" y="231" textLength="27.5" lengthAdjust="spacingAndGlyphs">4961.5</text>
<text x="1691" y="264" textLength="27.5" lengthAdjust="spacingAndGlyphs">4930.0</text>
<text x="1691" y="297" textLength="27.5" lengthAdjust="spacingAndGlyphs">4898.5</text>
<text x="1691" y="330" textLength="27.5" lengthAdjust="spacingAndGlyphs">4866.5</text>
<text x="1691" y="363" textLength="27.5" lengthAdjust="spacingAndGlyphs">4835.0</text>
<text x="1691" y="396" textLength="27.5" lengthAdjust="spacingAndGlyphs">4803.5</text>
<text x="1691" y="429" textLength="27.5" lengthAdjust="spacingAndGlyphs">4771.5</text>
<text x="1691" y="462" textLength="27.5" lengthAdjust="spacingAndGlyphs">4740.0</text>
<text x="1691" y="495" textLength="27.5" lengthAdjust="spacingAndGlyphs">4708.5</text>
<text x="1691" y="528" textLength="27.5" lengthAdjust="spacingAndGlyphs">4677.0</text>
<text x="1691" y="561" textLength="27.5" lengthAdjust="spacingAndGlyphs">4645.0</text>
<g shape-rendering="crispEdges">
<rect x="1687" y="40" width="33" height="11" fill="#ff0000"/>
<rect x="1687" y="181" width="33" height="11" fill="#ff0000"/>
<rect x="1687" y="262" width="33" height="11" fill="#000"/>
<rect x="1687" y="338" width="33" height="11" fill="#32cd32"/>
<rect x="1687" y="463" width="33" height="11" fill="#4169e1"/>
</g>
<text x="1691" y="48.5" textLength="27.5" lengthAdjust="spacingAndGlyphs" class="w">5135.0</text>
<text x="1691" y="189.5" textLength="27.5" lengthAdjust="spacingAndGlyphs" class="w">5000.0</text>
<text x="1691" y="270.5" textLength="27.5" lengthAdjust="spacingAndGlyphs" class="w">4923.3</text>
<text x="1691" y="346.5" textLength="27.5" lengthAdjust="spacingAndGlyphs" class="w">4850.0</text>
<text x="1691" y="471.5" textLength="27.5" lengthAdjust="spacingAndGlyphs" class="w">4730.0</text>
<text x="1689" y="572.5" textLength="17.6" lengthAdjust="spacingAndGlyphs">48.5</text>
<text x="1689" y="607.5" textLength="17.6" lengthAdjust="spacingAndGlyphs">0.00</text>
<text x="1689" y="684" textLength="25.6" lengthAdjust="spacingAndGlyphs">-97.13</text>
<text x="1689" y="700" textLength="15.1" lengthAdjust="spacingAndGlyphs">100</text>
<text x="1689" y="730.5" textLength="10.0" lengthAdjust="spacingAndGlyphs">70</text>
<text x="1689" y="780" textLength="10.0" lengthAdjust="spacingAndGlyphs">30</text>
<text x="1689" y="810" textLength="5.0" lengthAdjust="spacingAndGlyphs">0</text>
<path d="M3.5 5h7l-3.5 4z" fill="#000"/>
<text x="16" y="10" textLength="64.0" lengthAdjust="spacingAndGlyphs">CHINA300-,H4</text>
<text x="86.5" y="10" textLength="120.0" lengthAdjust="spacingAndGlyphs">4918.6 4934.2 4899.9 4923.3</text>
<text x="4.5" y="575.5" textLength="110.5" lengthAdjust="spacingAndGlyphs">MACD(12,26,9) 9.17 -1.72</text>
<text x="4.5" y="702" textLength="67.5" lengthAdjust="spacingAndGlyphs">RSI(14) 60.7460</text>
<text x="-1" y="826" textLength="41.2" lengthAdjust="spacingAndGlyphs">5 Jul 2021</text>
<text x="63" y="826" textLength="45.5" lengthAdjust="spacingAndGlyphs">9 Jul 05:00</text>
<text x="127" y="826" textLength="50.7" lengthAdjust="spacingAndGlyphs">15 Jul 05:00</text>
<text x="191" y="826" textLength="50.7" lengthAdjust="spacingAndGlyphs">21 Jul 05:00</text>
<text x="255" y="826" textLength="50.7" lengthAdjust="spacingAndGlyphs">27 Jul 05:00</text>
<text x="319" y="826" textLength="51.0" lengthAdjust="spacingAndGlyphs">2 Aug 05:00</text>
<text x="383" y="826" textLength="51.0" lengthAdjust="spacingAndGlyphs">6 Aug 05:00</text>
<text x="447" y="826" textLength="56.3" lengthAdjust="spacingAndGlyphs">12 Aug 05:00</text>
<text x="511" y="826" textLength="56.3" lengthAdjust="spacingAndGlyphs">18 Aug 05:00</text>
<text x="575" y="826" textLength="56.3" lengthAdjust="spacingAndGlyphs">24 Aug 05:00</text>
<text x="639" y="826" textLength="56.3" lengthAdjust="spacingAndGlyphs">30 Aug 05:00</text>
<text x="703" y="826" textLength="51.5" lengthAdjust="spacingAndGlyphs">3 Sep 05:00</text>
<text x="767" y="826" textLength="51.5" lengthAdjust="spacingAndGlyphs">9 Sep 05:00</text>
<text x="831" y="826" textLength="56.8" lengthAdjust="spacingAndGlyphs">15 Sep 05:00</text>
<text x="895" y="826" textLength="56.8" lengthAdjust="spacingAndGlyphs">23 Sep 05:00</text>
<text x="959" y="826" textLength="56.8" lengthAdjust="spacingAndGlyphs">29 Sep 05:00</text>
<text x="1023" y="826" textLength="54.7" lengthAdjust="spacingAndGlyphs">12 Oct 05:00</text>
<text x="1087" y="826" textLength="54.7" lengthAdjust="spacingAndGlyphs">18 Oct 05:00</text>
<text x="1151" y="826" textLength="54.7" lengthAdjust="spacingAndGlyphs">22 Oct 05:00</text>
<text x="1215" y="826" textLength="54.7" lengthAdjust="spacingAndGlyphs">28 Oct 05:00</text>
<text x="1279" y="826" textLength="51.5" lengthAdjust="spacingAndGlyphs">3 Nov 05:00</text>
<text x="1343" y="826" textLength="51.5" lengthAdjust="spacingAndGlyphs">9 Nov 05:00</text>
<text x="1407" y="826" textLength="56.8" lengthAdjust="spacingAndGlyphs">15 Nov 05:00</text>
<text x="1471" y="826" textLength="56.8" lengthAdjust="spacingAndGlyphs">19 Nov 05:00</text>
<text x="1535" y="826" textLength="56.8" lengthAdjust="spacingAndGlyphs">25 Nov 05:00</text>
<text x="1599" y="826" textLength="51.5" lengthAdjust="spacingAndGlyphs">1 Dec 05:00</text>
<text x="1663" y="826" textLength="51.5" lengthAdjust="spacingAndGlyphs">7 Dec 05:00</text>
<text x="1286.3" y="125.2" textLength="167.3" lengthAdjust="spacingAndGlyphs" style="font-family:'Liberation Sans','Noto Sans CJK SC',sans-serif;font-size:33.5px;fill:#ed1c24;stroke:none">多空转折点</text>
<text x="1452.2" y="123.9" textLength="78.7" lengthAdjust="spacingAndGlyphs" style="font-family:'Liberation Sans','Noto Sans CJK SC',sans-serif;font-size:35.4px;fill:#ed1c24;stroke:none">4850</text>
</svg></body></html>
